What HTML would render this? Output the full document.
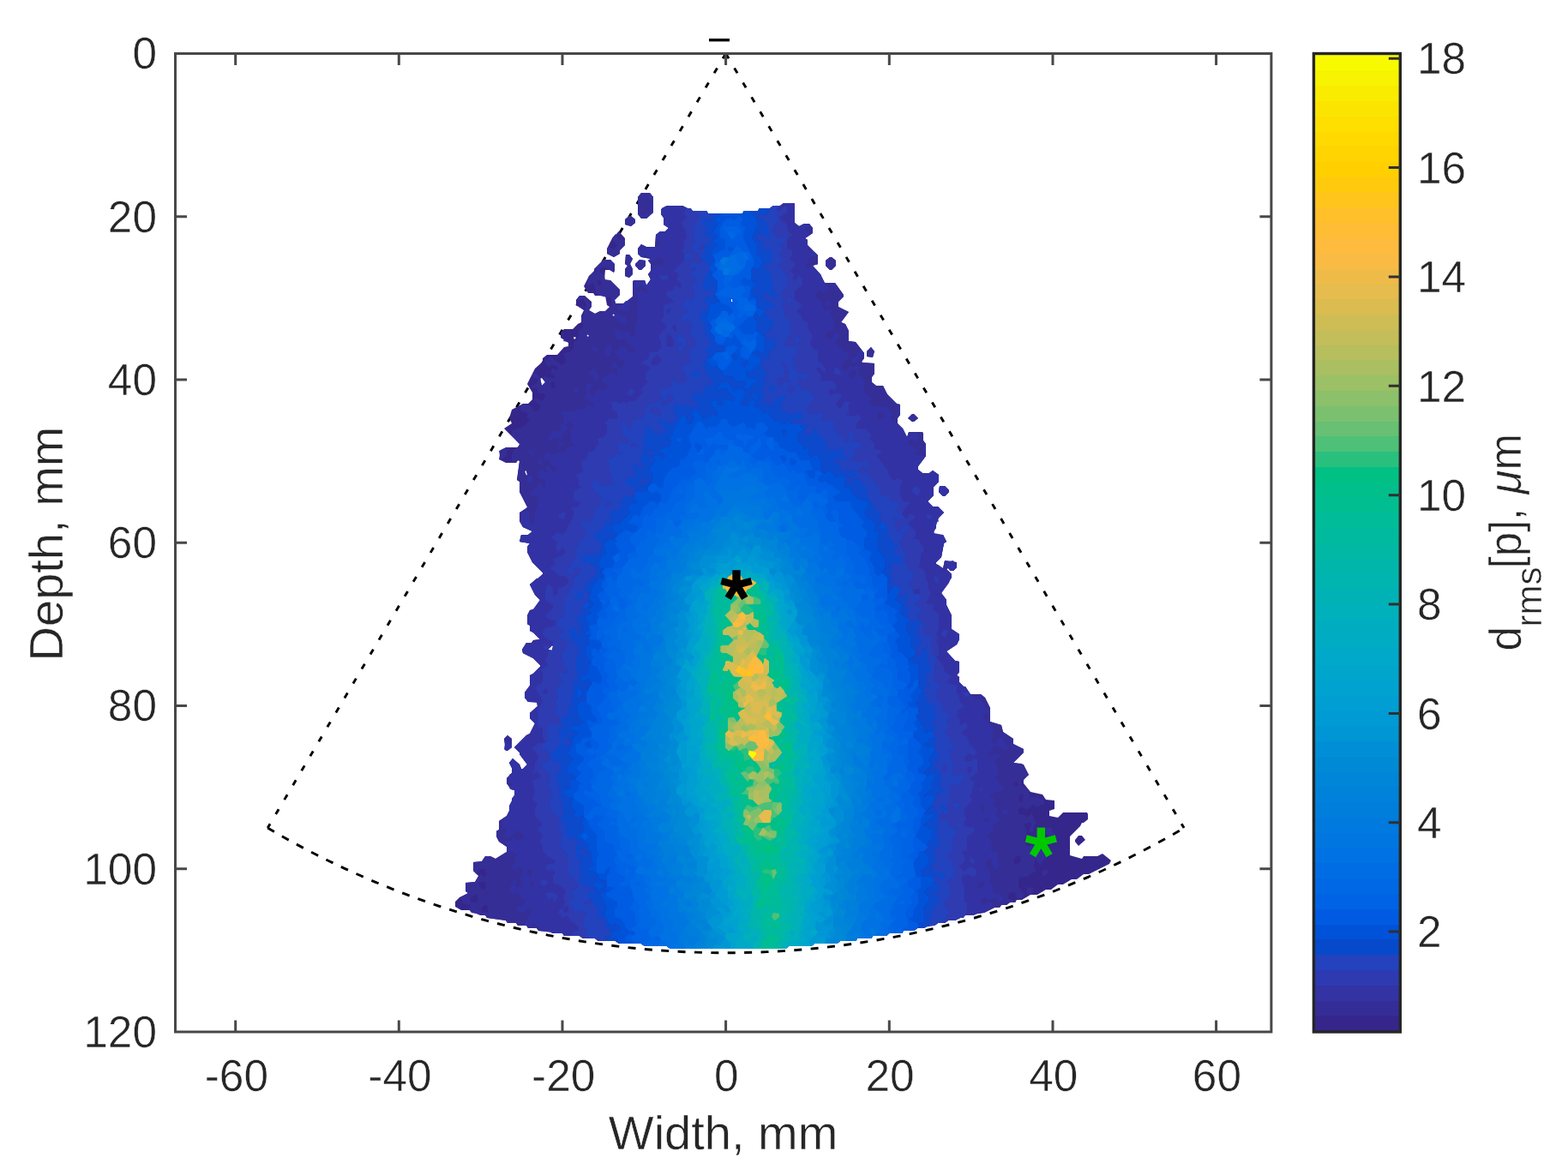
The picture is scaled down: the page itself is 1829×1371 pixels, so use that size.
<!DOCTYPE html>
<html lang="en"><head><meta charset="utf-8"><title>Displacement map</title>
<style>html,body{margin:0;padding:0;background:#fff;}body{width:1829px;height:1371px;overflow:hidden;}svg{display:block;}text{font-family:"Liberation Sans", sans-serif;fill:#262626;stroke:#fff;stroke-width:0.5px;}</style></head><body>
<svg width="1829" height="1371" viewBox="0 0 1829 1371">
<defs><filter id="soft" x="-2%" y="-2%" width="104%" height="104%"><feGaussianBlur stdDeviation="0.55"/></filter></defs>
<rect width="1829" height="1371" fill="#fff"/>
<g fill="none" stroke="#000" stroke-width="2.9">
<path d="M846.6 62.5 L312.2 966.1" stroke-dasharray="6.8 12.9"/>
<path d="M846.6 62.5 L1381.1 966.1" stroke-dasharray="6.8 12.9"/>
<path d="M312.2 966.1 A1051.4 1049.2 0 0 0 1381.1 966.1" stroke-dasharray="9 10.4"/>
</g>
<g id="heat" fill-rule="evenodd" filter="url(#soft)">
<path fill="#36268b" d="M754 255l-6 0 -4-5 0-20 4-5 10 0 4 5 0 18zM1294 1008l-24 12 -6 0 -8 6 -6 0 -10 6 -6 0 -8 6 -6 0 -10 6 -8 0 -10 6 -6 0 -2 3 -6 0 -4 3 -6 0 -2 3 -6 0 -12 6 -22 3 -12 6 -8 0 -4 3 -8 0 -4 3 -8 0 -4 3 -8 0 -4 3 -12 0 -2 3 -16 0 -2 3 -16 0 -2 3 -16 0 -2 3 -18 0 -4 3 -26 0 -4 3 -26 0 -4 3 -134 0 -4-3 -26 0 -4-3 -26 0 -4-3 -20 0 -4-3 -14 0 -4-3 -18 0 -2-3 -28-3 -2-3 -10 0 -2-3 -10 0 -2-3 -10 0 -2-3 -22-3 -2-3 -6 0 -12-6 -10 0 -7-4 0-6 5-5 10-5 -3-2 0-10 11-1 4-7 -6-6 0-10 10-1 4-6 6 0 6 3 13-8 0-6 -9-6 -3-6 0-6 3-2 0-10 9-6 3-6 0-6 3-2 0-6 3-4 0-6 -4-1 -5-7 0-6 6-6 0-6 -3-6 4-5 8 7 2 5 2 0 5-5 -9-12 0-2 -6-6 14-14 4-2 6-12 -6-6 0-6 9-8 -1-5 -10 0 -4-5 0-6 6-8 0-12 4-2 8-8 0-2 -8-8 -12-6 -1-4 5-8 6 0 2-3 8-1 -8-8 -4-2 0-6 -3-2 0-10 3-6 4-1 8-11 -6-6 -6-12 8-7 2 0 5-5 0-2 -12-12 -6-12 0-6 3-4 -12-2 2-8 8 0 5-4 -11-5 -4-7 0-10 9-6 -9-18 0-12 -3-2 3-22 -2-1 -2 3 -12 0 -8-4 2-11 6-3 14 0 2-4 -18-18 9-6 -3-6 3-10 13-7 6 0 5-5 0-8 -6-10 9-18 9-8 0-4 5-4 12 0 8-9 5-1 0-4 -9-6 0-6 4-4 10 0 6-6 4-2 0-8 3-6 -9-6 0-6 4-5 6 0 8 7 0 6 -3 4 7 4 6-3 6 0 5-5 -3-2 -2-11 -12 0 -2-3 -6 0 -5-8 6-12 6-6 0-2 11-11 8 0 5 5 0 8 -1 2 -4-3 -6 0 -1 11 7 1 11 11 0 6 -6 6 1 4 10 0 10-8 0-18 2-1 12 0 2 6 5-7 -3-6 3-4 0-8 -3-4 3-2 -11-2 -4-4 0-6 4-5 6 3 10 0 1-14 5-4 6 0 4-4 -6-4 0-8 -3-4 1-7 6-3 18 0 12 6 16 0 2 3 40 0 2-3 16 0 2-3 12 0 4-3 8 0 4-3 12 0 1 1 0 22 5 4 6-3 6 0 4 5 0 6 -9 6 3 2 0 6 12 12 0 10 -6 2 9 10 5 10 12 0 10 14 0 2 -6 6 0 6 12 6 -9 12 5 2 4 8 0 12 8 1 10 13 0 6 -3 4 1 1 14 1 0 12 -3 4 0 6 5 4 8 0 5 10 11 11 4 1 0 12 -3 4 0 6 6 6 5 10 2-6 16 0 1 2 0 8 3 4 0 14 -9 12 0 4 5 4 8 0 4-3 7 5 0 8 -6 6 0 10 -6 6 0 2 5 5 6 0 7 7 -6 6 -3 6 0 6 -3 4 1 4 10 0 4 8 -3 2 -3 16 -6 6 0 2 8 5 2-9 14 2 0 6 -4 4 -6-3 -2 1 6 6 0 4 -12 18 6 8 0 6 6 12 0 16 9 6 0 6 -3 6 -12 8 10 11 5 1 0 12 -3 4 3 2 0 6 5 5 2 0 6 9 12 0 5 4 6 12 0 16 13 4 2 8 12 8 0 6 12 6 0 4 -12 12 12 2 6 12 -6 6 0 4 8 10 14 3 4 6 10 1 0 10 -6 2 0 6 10 2 6-6 28 0 1 2 0 6 -5 4 -2 0 -2 4 -12 12 0 22 14 4 2-3 16 0 6-3 10 8zM736 264l-7-2 0-6 5-4 2 0 5 4 0 4zM716 300l-8-4 0-6 6-12 8-8 7 8 0 8 -6 6 0 4zM734 324l-5-2 0-8 3-4 -3-2 1-11 4 0 4 5 -3 6 3 6 0 6zM970 315l-2 0 -5-5 0-6 5-4 2 0 5 4 0 6zM748 315l-2 0 -5-5 0-2 5-5 7 1 0 6zM854 354l1-2 -1-4 -2 2zM717 368l-1-2 -2 2 2 1zM687 392l-1-2 -2 2 2 1zM672 394l-2-1 -1 1 1 2zM1018 417l-7-1 0-6 5-5 4 5zM632 450l4-4 -4-5 -2 1zM1066 492l-2 0 -5-4 5-5 2 0 5 5zM614 555l1-1 -1-5 -2 1zM1102 579l-2 0 -5-5 1-7 6 0 5 5 0 2zM645 754l-1-1 -5 5 5 1zM590 876l-2-14 4-4 5 4 0 10 -5 4zM1258 987l-4-5 0-2 4-5 4 0 4 5z"/>
<path fill="#352d97" d="M754 255l-6 0 -4-5 0-20 4-5 10 0 4 5 0 18zM1190 1050l-5-2 -1-7 -6 0 -2 7 9 4 -1 1 -6 0 -4 3 -6 0 -2 3 -6 0 -12 6 -22 3 -12 6 -8 0 -4 3 -8 0 -4 3 -8 0 -4 3 -8 0 -4 3 -12 0 -2 3 -16 0 -2 3 -16 0 -2 3 -16 0 -2 3 -18 0 -4 3 -26 0 -4 3 -26 0 -4 3 -134 0 -4-3 -26 0 -4-3 -26 0 -4-3 -20 0 -4-3 -14 0 -4-3 -18 0 -2-3 -28-3 -2-3 -10 0 -2-3 -10 0 -2-3 -10 0 -2-3 -22-3 -2-3 -16-3 -4-5 3-2 -1-2 -11-2 3-2 -3-4 9-6 -3-2 0-10 11-1 6-9 6 3 1-1 -1-8 -6 0 -4 6 -4-4 0-10 10-1 4-6 6 0 6 3 13-8 0-6 -9-6 -3-6 0-6 3-2 0-10 9-6 3-6 0-6 3-2 0-6 3-4 0-6 -4-1 -5-7 0-6 6-6 0-6 -3-6 4-5 8 7 2 5 2 0 5-5 -9-12 0-2 -6-6 14-14 4-2 6-12 -6-6 0-6 9-8 -1-5 -10 0 -4-5 0-6 6-8 0-12 4-2 8-8 0-2 -8-8 -12-6 -1-4 5-8 6 0 2-3 8-1 -8-8 -4-2 0-6 -3-2 0-10 3-6 4-1 8-11 -6-6 -6-12 8-7 2 0 5-5 0-2 -12-12 -6-12 0-6 3-4 -12-2 2-8 8 0 5-4 -11-5 -4-7 0-10 4-1 5-5 0-2 -9-16 0-12 -3-2 3-22 -2-1 -2 3 -5-2 0-8 3-6 6-4 0-2 -9-10 0-6 13-4 8-8 -3-2 0-6 -7-2 -2-4 4-5 10 3 2 6 4 0 4-4 0-4 -9-6 7-1 4 3 4-4 -2-5 -6 0 -2-6 -8-1 9-6 0-4 -5-1 -1-5 5-1 4 5 2 10 4-4 -3-4 1-4 6 3 6 0 2-1 -6-6 2-5 6 3 1-4 -7-2 -4 3 -4-5 0-2 4-5 4 0 12 9 4-4 -3-10 7-1 5-5 0-6 6-6 0-8 6-6 -3-4 0-6 3-2 0-6 3-6 -4-8 -4 3 -4-1 4-5 6 0 8 11 -3 6 7 4 6-3 6 0 8-7 -2-8 -16-4 -4-14 -6 3 -2-1 3-10 9-6 -3-2 11-11 8 0 5 5 -1 10 -10-6 -2 0 -5 4 6 6 1 5 6 0 11 11 0 6 -6 6 1 4 10 0 10-8 0-18 2-1 12 0 2 6 5-7 -3-6 3-4 0-8 -3-4 3-2 -11-2 -4-4 0-6 4-5 6 3 10 0 1-14 5-4 6 0 4-4 -6-4 0-8 -3-4 1-7 6-3 18 0 12 6 16 0 2 3 40 0 2-3 16 0 2-3 12 0 4-3 8 0 4-3 12 0 1 1 0 22 5 4 6-3 6 0 4 5 0 6 -9 6 3 2 0 6 12 12 0 10 -6 2 9 10 5 10 12 0 10 14 0 2 -6 6 0 6 12 6 -9 12 5 2 4 8 0 12 8 1 10 13 0 6 -3 4 1 1 14 1 0 12 -3 4 0 6 5 4 8 0 5 10 11 11 4 1 0 12 -3 4 0 6 6 6 5 10 2-6 16 0 1 2 0 8 3 4 0 14 -9 12 0 4 5 4 8 0 4-3 7 5 0 8 -6 6 0 10 -6 6 0 2 5 5 6 0 7 7 -6 6 -3 6 0 6 -3 4 1 4 10 0 4 8 -3 2 -3 16 -6 6 0 2 8 5 2-9 14 2 0 6 -4 4 -6-3 -2 1 6 6 0 4 -12 18 6 8 0 6 6 12 0 16 9 6 0 6 -3 6 -12 8 10 11 5 1 0 12 -3 4 3 2 0 6 5 5 2 0 6 9 12 0 5 4 6 12 0 16 13 4 2 8 12 8 0 6 12 6 0 4 -12 12 10 1 8 13 -9 6 0 6 9 6 2 8 8 0 8 4 0 4 -8 4 -6-3 -6 6 -6-3 -4 2 0 6 8 1 2 3 6-6 2 8 3 2 -5 14 -4-2 3-8 -1-2 -8 2 3 6 0 8 -3 4 4 7 8-1 -3-6 6-4 0-6 5-4 12 0 4 8 -4 4 -6-6 -8 10 6 6 0 6 6 4 -9 8 -1 5 -6-9 -2 8 3 6 -11 7 -10 1 0 10 6 8 0 4zM736 264l-7-2 0-6 5-4 2 0 5 4 0 4zM722 273l-2-1 2-2 1 2zM716 300l-8-4 0-6 2-2 6 3 4-5 -6-6 0-2 4-5 4 6 7 1 0 6 -6 6 0 4zM734 324l-5-2 0-8 3-4 -3-2 1-11 4 0 4 5 -3 6 3 6 0 6zM970 315l-2 0 -5-5 0-6 5-4 2 0 5 4 0 6zM748 315l-2 0 -5-5 0-2 5-5 7 1 0 6zM702 332l-2-5 -4 1 2 5zM854 354l1-2 -1-4 -2 2zM681 358l-1 2 -5-2 1-1zM717 368l-1-2 -2 2 2 1zM666 386l-2 1 -4-1 2-2zM656 390l-2-2 2-1 1 1zM687 392l-1-2 -2 2 2 1zM663 398l-1 1 -5-1 1-2zM1018 417l-7-1 0-6 5-5 4 5zM644 453l4-1 -2-8 -4 4zM1066 492l-2 0 -5-4 5-5 2 0 5 5zM584 537l-2-11 10-4 2 2 -3 2 0 6zM614 555l1-1 -1-5 -2 1zM1102 579l-2 0 -5-5 1-7 6 0 5 5 0 2zM645 754l-1-1 -5 5 5 1zM590 876l-2-14 4-4 5 4 0 10 -5 4zM1188 916l-2-4 -4 2 2 4zM1192 936l2-8 -4-1 -2 7zM1191 1006l-1-7 -4 0 -4 5 2 4zM1216 1023l-1-7 5-2 4 4zM567 1036l-1-7 -8 1 4 8zM1204 1044l-7-2 1-7 8 1zM558 1052l-2-8 -2 0 -5 4 1 5zM570 1064l-2-8 -2 0 -5 4 1 5z"/>
<path fill="#3333a4" d="M760 234l-4-4 2-2 4 2zM1154 1062l-6 0 -12 6 -10 0 -12 6 -8 0 -4 3 -8 0 -4 3 -20 3 -4 3 -12 0 -2 3 -16 0 -2 3 -16 0 -2 3 -16 0 -2 3 -18 0 -4 3 -26 0 -4 3 -26 0 -4 3 -134 0 -4-3 -26 0 -4-3 -26 0 -4-3 -20 0 -4-3 -14 0 -4-3 -18 0 -2-3 -12 0 -4-3 -6 0 -12-9 -2 3 -6 0 -2-2 9-18 -1-1 -12 6 -5-1 0-6 7-2 2-4 -8-11 -6 3 -4-8 3-2 1-8 5 2 -3 6 2 1 7-1 0-6 -3-4 3-6 0-6 -5-1 -2 6 -5-5 0-2 6-4 -3-2 3-6 -5-5 -6 0 -1-1 3-4 -6-6 8-1 2-3 10 3 4-5 -8-7 -6 6 -8 3 -2-4 3-6 -6-4 3-2 -3-4 9-8 0-10 6-12 0-6 -6-2 3-4 -3-6 0-6 3-2 0-6 -3-6 4-5 8 7 2 5 2 0 5-5 -9-12 0-2 -6-6 14-14 4-2 6-12 -6-6 0-6 9-8 0-4 -11-1 -4-5 0-6 6-8 0-12 4-2 8-8 0-2 -8-8 -12-6 -1-4 5-8 8 0 8-4 -8-8 -4-2 0-6 -3-2 0-10 12-12 3-6 -6-6 -6-12 15-12 0-2 -12-12 -6-12 0-6 3-4 -12-2 2-8 8 0 5-4 -11-5 -4-7 3-4 0-6 5-4 4 8 0 8 2 2 4-2 0-14 3-4 0-6 3-6 -12-2 3-6 6-4 1-4 4 0 2 6 2-2 0-8 -8-2 -1-8 7-1 4 3 1-2 -3-2 2-5 2 0 6 9 5-4 -5-5 -2 0 -4-6 -7-1 3-6 4-2 6 3 4-3 6 0 6-6 7-2 -3-6 0-12 3-6 -5-4 -4 4 3 4 -6 6 -1 7 -10-3 -2 6 -5-4 5-8 10-2 0-6 3-2 0-10 -3-2 2-2 14 0 4-3 8 0 4-6 6 6 1-7 -7-2 -5-4 3-4 0-12 2-1 7 1 -6 6 0 4 5 4 6-9 6 3 4-4 0-4 -4-1 -2-5 8-7 6 0 2 3 2-2 0-6 -9-2 5-5 2 0 6 6 5-5 0-2 -5-2 -7-8 0-2 7-5 6 0 4 6 7-1 -3-6 -6-4 -2-4 -6 0 -2 3 -5-7 0-6 5-2 2 3 10 0 2 6 5-1 0-16 3-2 0-28 -3-6 7-1 4 3 4-4 -8-5 -6 3 -1-8 11-1 2 6 5-7 -3-6 6-6 0-4 12-2 0-4 -4-4 -12 6 -2-2 3-2 -7-5 -4 3 -4-4 0-4 10-1 4-3 6 0 7-4 -6-6 0-4 5-4 6 0 4-4 -6-4 0-8 -3-4 0-6 7-4 18 0 12 6 16 0 2 3 40 0 2-3 16 0 2-3 12 0 4-3 8 0 4-3 12 0 1 1 0 22 5 4 6-3 7 1 -6 6 6 6 -6 4 3 2 0 12 8 2 4 4 -10 2 -2 8 -3 2 5 2 2-3 5 5 0 2 6 4 3 8 6 6 0 4 -4 4 -6-3 -5 5 0 2 6 4 5 13 2-3 8 2 -3 2 0 4 6 6 -3 2 0 10 -8 1 -1 5 5 4 2 0 4-9 7 5 -6 6 0 2 11 11 4 1 0 6 -6 4 -3 8 7 2 4-6 2 3 6-3 5 2 -3 2 0 6 6 6 0 16 9 6 -3 6 4 4 16 0 7 8 -3 6 15 12 5 10 2 0 6-6 5 2 -1 10 -6-3 -5 1 0 4 5 4 7 2 -3 6 2 1 10 1 -9 12 0 4 5 4 8 0 4-3 7 5 0 8 -6 6 0 10 -6 6 0 2 5 5 6 0 7 7 -6 6 -6 18 11 2 4 8 -3 2 -3 16 -6 6 0 2 4 2 4 6 6 0 4 4 -3 10 -9 12 6 8 0 6 6 12 0 16 9 6 0 6 -3 6 -12 8 10 11 5 1 0 12 -3 4 3 2 0 6 5 5 2 0 2 5 10 10 6 0 5 10 6 4 -1 4 -4-3 -4 7 4 2 8 8 0 12 -3 6 7 1 2-5 4-1 8 11 -2 4 -12-6 -6 6 -4 2 4 4 4-3 7 1 0 4 -6 2 0 6 3 4 0 6 -3 6 9 12 -2 4 -8 0 -5 4 6 6 -3 6 6 4 -3 6 6 6 -9 8 0 6 -6 4 0 2 6 6 -3 10 9 2 0 12 3 4 -5 4 -2 0 -4-12 -7 4 0 4 6 6 0 14 3 4 0 6 4 4 6 0 2 4 -4 5 -6-6 -4 3 -8-3 -5 5 5 4 2-3 8 1zM754 255l-1-5 5-1 1 1zM946 267l-1-1 1-2 2 2zM952 309l-1-1 1-2 2 2zM746 315l-2-1 2-2 1 2zM735 322l-1 2 -5-2 1-1zM974 336l-5-4 1-2 5 2zM736 351l-1-1 1-2 2 2zM854 354l1-2 -1-4 -2 2zM735 352l-1 11 -14-1 0-4 4-1 6-6zM968 357l-5-1 1-5 5 1zM732 376l-4 2 -6-3 -5-5 0-2 5-2 2 3 6 0zM988 399l-1-1 1-8 2 2zM706 417l-1-7 3-6 4-2 2 8 -3 6zM699 406l-5 5 -4-5 2-1zM994 423l-1-5 5-1 6-9 4 4 -6 6 -2 5zM694 447l-1-7 -6-4 0-2 7-5 2 7 3 4 0 2zM992 441l2 0 5-5 -1-4 -4 0 -4 4zM674 459l-5-1 1-5 5 1zM1032 488l0-4 -4-4 -5 2 1 7zM1064 492l-2-2 2-1 1 1zM652 522l-1-4 5-2 1 2zM1078 528l-1-2 1-7 2 1zM650 525l-2-1 2-2 1 2zM624 530l-4 1 -5-5 5-1zM632 543l-5-1 1-8 5 4zM620 564l-5-2 1-7 5 1zM1102 579l-2 0 -5-5 1-7 6 0 5 5 0 2zM1116 662l-4 4 -4 0 -7-10 11-2 1 2 -3 2zM645 754l-1-1 -5 5 5 1zM1146 812l-2 1 -4-1 2-2zM592 861l-1-1 1-2 2 2zM590 876l-2-2 2-13 1 5 6 2 0 4zM1148 948l1-8 -5-1 -1 5zM1176 950l-4 1 -5-5 7-1zM1155 956l-1-2 -8 2 4 4zM580 972l-1-2 1-1 2 1zM620 1023l1-7 -5-2 -1 4zM624 1034l-2-5 -4 1 2 5zM1144 1038l5-8 -1-1 -8 1 0 4z"/>
<path fill="#2e3ab1" d="M1124 1071l-6 0 -4 3 -8 0 -4 3 -8 0 -4 3 -8 0 -4 3 -8 0 -4 3 -12 0 -2 3 -16 0 -2 3 -16 0 -2 3 -16 0 -2 3 -18 0 -4 3 -26 0 -4 3 -26 0 -4 3 -134 0 -4-3 -26 0 -4-3 -26 0 -4-3 -20 0 -4-3 -14 0 -4-3 -8 0 -2-2 4-4 4 0 1-4 -5-5 -2 0 -6-9 -6 3 -5-7 5-5 2 6 5-1 0-6 -1-2 -4 3 -1-1 3-6 -3-4 3-8 -4-5 -11-5 0-8 3-4 -4-4 -4 3 -4-5 4-4 6 0 2-4 -10-5 -5-7 0-6 -3-4 3-8 -6-6 6-6 -9-10 0-8 3-6 -6-6 3-6 -3-16 9-2 0-4 -4-4 -4 3 -1-1 3-6 0-6 3-4 0-6 -6-6 0-2 7-5 8-1 -3-6 0-10 -6-2 0-18 6-12 -9-16 9-6 0-12 -3-2 9-6 -3-6 3-4 0-6 6-2 0-10 -5-1 -7-7 0-4 5-4 10-2 0-6 -8-1 -4-5 9-8 0-4 -9-6 0-14 4-5 5 5 1 10 5-4 0-6 7-2 5-4 0-4 -5-4 -6 0 -6-6 -4-2 0-2 6-4 -3-6 11-4 4-4 -4-5 -6 6 -2-7 3-6 -9-4 8-7 6 3 4-4 9-18 0-6 -3-4 8-1 4-5 -9-2 0-10 9-6 -3-2 0-6 -3-6 9-4 -3-6 0-6 6-2 2-8 7-2 0-2 6-6 -3-6 8-2 4-4 0-10 -3-2 5-5 10-1 0-6 -6-4 0-6 -3-2 7-2 6 3 4-3 2 3 4-3 8 0 2-4 6-6 -3-4 9-8 -3-4 0-6 6-6 -5-4 -7-2 9-6 2-7 8 0 5-5 0-8 -3-6 9-10 0-2 -6-6 3-4 0-14 12-4 -9-8 0-4 7-1 4-6 6 3 1-4 -6-6 3-6 -6-4 12-12 0-8 -3-4 3-2 0-10 3-2 0-6 -6-12 6-6 -3-6 2-5 6 0 2 3 16 0 2 3 40 0 2-3 16 0 2-3 12 0 4-3 6 0 1 2 -3 2 2 2 8-6 2 2 0 6 -9 6 9 8 0 6 6 6 -6 6 0 10 6 2 0 6 -3 4 6 6 0 2 -6 6 6 4 -3 6 4 1 4-6 4 5 0 6 -9 8 0 10 9 6 -6 6 0 2 6 6 0 4 6 2 0 6 6 10 -3 8 3 6 6 4 0 12 4 1 5 7 -1 5 -6-6 -5 1 6 6 1 8 12 0 5 4 0 6 -1 2 -4-3 -4 5 2 4 6-3 7 1 0 4 -6 6 0 2 5 5 6-9 7 2 -3 2 0 10 -3 2 11 2 2-3 5 5 -6 6 0 6 11 1 7 7 -3 4 6 6 0 6 9 2 -6 6 12 16 3 8 4 5 6-3 5 4 -3 6 0 10 4 7 8 1 -9 12 0 4 5 4 2-6 4 0 4 4 -9 6 9 10 0 6 -3 2 7 2 5 8 0 6 -3 2 0 10 -3 6 6 2 3 6 0 6 3 4 0 8 3 4 -6 12 8 1 1 7 6 4 0 20 -3 4 3 6 -3 2 3 4 0 12 -3 2 9 12 0 4 9 8 -6 6 12 4 0 8 3 4 0 6 6 6 -9 6 3 2 -3 4 3 2 1 8 6-3 2 1 0 6 -4 2 -2 4 6 4 3 8 9 10 -4 4 -6-3 -5 5 1 4 6 0 4-3 4 1 0 16 -9 6 6 6 -3 6 0 6 -3 2 3 6 -9 10 0 8 3 4 -3 2 0 6 11 2 1 4 -9 6 0 16 -6 2 3 6 0 6 -6 4 5 7 8-6 6 3 2 4 -4 5 -6-3 -8 2 0 8 3 4 0 18 3 2 0 10zM780 326l-8 1 -4-5 10-1zM854 354l1-2 -1-4 -2 2zM778 366l5-4 -1-2 -5 2zM788 387l1-1 -1-8 -5 4zM784 405l2-7 -3-6 -5-2 -1 14zM760 426l6 0 5-4 0-4 -5-4 -7 8zM980 438l-8-2 2-7 2 0 5 5zM736 462l-4-2 2-7 2 0 5 5zM1070 579l-8-7 8-5 4 5 0 2zM658 606l-7-2 0-2 5-5 4 1zM1089 602l-5 4 -4-2 2-4zM1094 609l-2-1 2-2 1 2zM1090 612l-1-2 1-1 2 1zM1094 681l-5-5 1-4 5 2zM1074 692l-2-5 -7 1 1 5zM1102 744l-4-4 2-5 7 1zM642 754l-4 5 -5-5 1-1zM639 808l-1-4 -5 2 1 4zM1131 812l-5 1 -4-5 8-1zM1130 903l4-5 -2-4 -4 2zM1144 924l-1-2 1-4 2 2zM1136 1008l-5-2 1-7 5 5zM634 1035l-4-5 2-4 7 2 0 2zM651 1048l-5 5 -2-6 -4 3 -4-8 8-1 6 3z"/>
<path fill="#2442be" d="M1100 1077l-6 0 -4 3 -8 0 -4 3 -8 0 -4 3 -12 0 -2 3 -16 0 -2 3 -16 0 -2 3 -16 0 -2 3 -18 0 -4 3 -26 0 -4 3 -26 0 -4 3 -134 0 -4-3 -26 0 -4-3 -26 0 -4-3 -18 0 -2-3 -10 0 -4-5 0-6 -3-2 0-12 3-4 -4-4 -4 3 -6 0 -1-5 -6-6 6-6 -3-8 4-2 5-4 0-4 -5-1 -1-5 -6-2 0-22 -9-12 0-12 3-2 -6-4 3-2 -3-4 3-8 -8-8 -4-2 0-14 3-4 -6-12 3-14 -9-6 0-6 9-4 0-6 -9-6 0-6 6-2 0-18 5-5 6 3 4-4 0-4 -9-6 6-6 -3-2 0-6 3-4 -3-8 3-6 6-4 -6-12 1-1 6 3 5-2 -6-6 0-8 -3-4 9-18 -7-1 -5-5 6-6 0-2 -9-4 3-2 0-6 9-4 -3-6 0-6 3-2 -3-6 6-4 6-12 0-8 5-2 4-8 -8-1 -2 6 -6 0 -2-5 6-2 0-6 6-6 0-10 3-2 0-6 5-2 4-8 -6-12 4-4 4 3 4-1 3-6 0-6 6-4 0-6 3-2 0-4 -9-8 -3-6 4-5 4 0 2 6 6 0 4-3 2 3 2-1 0-10 -3-2 0-12 -3-4 14-10 2 3 2-1 -6-6 0-6 8-2 2 3 5-7 -9-4 0-6 -3-6 5-4 6 9 4-5 0-6 8-1 7-7 0-6 5-5 6 0 6-6 2 9 12-6 2-4 -4-5 -5 5 3 2 -4 2 -5-4 0-10 11-1 2-9 6 3 11-1 0-6 -6-12 12-6 -3-6 0-6 4-5 4 0 1-5 -9-12 3-6 0-6 -12-2 0-6 9-4 -9-6 3-2 2-8 6 3 4-5 0-6 -3-6 6-6 0-2 -9-6 9-6 -5-2 -2 3 -2-5 4-4 6 3 5-5 0-2 -7-8 -5-2 0-6 6-6 -3-2 0-6 -3-6 6-4 0-6 3-2 0-4 -6-2 2-2 12 0 2 3 40 0 2-3 16 0 2-3 12 0 4-3 4 2 0 8 3 6 -9 12 8 11 6-3 4 4 -9 6 3 4 -3 8 6 6 -9 6 4 2 8 10 0 12 -6 6 0 10 3 2 -3 6 3 4 0 6 9 12 -3 2 3 6 -6 6 -3 10 7 1 4-3 4 4 0 6 -6 6 3 6 0 6 7 8 4-3 4 1 0 4 -4 4 -6-3 -2 1 0 6 8 8 6 0 7 8 -6 6 -3 6 0 6 10 1 6-3 2 4 -3 6 7 2 6-3 5 5 -3 6 12 12 2 4 4-2 0-6 -3-2 5-2 4 4 -3 6 12 4 0 2 -9 6 3 4 -6 6 0 2 11 2 6-3 4 5 -4 4 -4-3 -4 5 0 2 4 2 6-3 2 7 6 6 0 4 6 2 0 10 8 1 2-6 2 11 8 1 4 5 -6 6 12 8 -8 2 -6-3 -1 1 3 4 0 8 4 5 6-9 8 2 -9 8 0 6 -3 4 0 6 6 6 0 6 -3 6 5 1 1 7 6 4 0 8 -6 6 6 6 1 5 8 1 0 4 -6 6 0 2 9 6 -6 6 0 4 9 8 -3 4 0 6 9 2 0 22 6 2 0 6 -3 4 3 2 -3 4 0 12 9 6 -6 6 0 8 9 10 -3 6 9 2 0 6 -3 4 3 6 -6 6 6 6 0 6 6 2 0 4 -6 6 3 2 -3 6 6 6 -3 10 4 4 6-3 5 5 -6 6 -1 4 -6-3 -5 1 3 6 -3 6 0 10 -3 2 3 10 -5 1 -2-3 -5 4 1 5 10 0 1 5 9 8 -6 12 3 10 -9 6 6 6 0 6 3 2 0 12 -9 4 6 12 -3 2 0 6 -6 6 6 12 -6 6zM822 286l-4-1 -5 5 7 1zM800 303l-2-5 8-4 1 8zM922 354l-4-2 2-7 4 5zM854 354l1-2 -1-4 -2 2zM794 411l-5-5 6-2 0-4 -6-2 1-8 4 0 7 8 -3 8zM932 402l-5-4 1-5 5 1zM908 450l2 0 6-6 4 3 4-1 -6-6 3-6 -3-4 -2-7 -4 1 3 6 0 10 -9 2zM927 458l-1-8 -4 0 -4 4 4 5zM771 484l-1-7 -6-3 -5 4 1 5 6 0 4 3zM744 520l-4-4 -5 4 1 2zM714 590l-4-5 -5 1 1 5zM654 752l-2 1 -7-1 1-2zM1100 903l7-7 -5-5 -4 5zM1118 945l-8-5 4-4 5 2zM1118 966l-2-2 4-4 2 4zM690 1052l-4-2 -5 4 7 2z"/>
<path fill="#0749cb" d="M722 1101l-4-3 -8 0 -5-4 9-4 -9-12 3-8 -2-2 -2 3 -6 0 -2-1 3-6 -3-6 -9-10 0-8 5-2 1-4 -1-2 -4 3 -13-7 3-6 0-6 -3-4 3-6 -6-8 0-10 3-6 -5-4 -6 0 -4-4 0-12 -6-6 3-6 0-10 -3-2 3-4 -6-6 3-2 0-6 -3-4 0-8 -6-4 9-2 0-12 -12-4 0-6 12-12 0-6 -3-2 3-6 -3-4 9-2 -6-6 0-4 9-2 0-10 3-2 0-12 3-4 0-12 6-6 -3-6 0-18 3-2 0-10 -9-8 0-6 -3-4 5-4 4 2 2 7 4-5 -3-6 0-6 -3-2 6-6 9-18 0-6 -5-2 -1-4 15-18 0-4 -8-7 -6 0 -4-5 4-4 12 0 5-4 0-4 6-6 -5-1 -7-7 0-4 5-1 7-7 1-5 8-1 -3-6 3-6 8-2 4-4 -3-4 7-7 11-1 0-10 -7-1 -5-5 0-2 12-4 0-6 -3-6 4-4 4 9 4-1 -3-16 3-2 0-10 3-2 -3-4 3-6 0-6 5-4 6 9 6 0 7-7 -9-6 2-5 12 6 6-6 4-1 -6-6 2-11 6 3 12 0 2 3 5-5 0-2 -6-4 0-6 13-1 2-7 9-4 0-6 -6-2 0-6 -6-6 6-10 0-6 -3-2 6-6 0-6 -6-10 0-8 -6-10 3-6 9-6 -6-6 0-2 4-5 8-1 -2-5 -8 0 -5-5 3-6 0-6 6-6 0-8 -4-2 -5-4 0-4 3-2 0-10 9-6 -9-6 3-8 -6-4 0-6 1-1 6 3 5-4 -3-4 2-1 36 0 2-3 16 0 2-3 10 0 1 5 -5 4 -6-3 -1 5 5 4 7 2 -3 6 3 2 0 10 -1 1 -6-6 -8 1 3 6 6 4 0 8 1 2 4-3 4 1 0 12 -4 5 -4 0 -1 5 5 1 4 7 0 10 3 2 -3 4 6 6 -2 4 -8-6 -8 2 3 6 7 1 5 7 -12 4 0 2 12 12 -3 6 -9 10 7 4 6 0 2 4 -9 12 0 6 -1 2 -6-3 -2 1 0 10 6 8 -3 6 3 6 -6 6 3 4 0 6 -3 6 10 1 4 3 1-8 11-4 1 2 -6 12 11 7 6 0 6-3 4 4 0 4 -4 4 -6-3 -2 1 2 5 14 0 2 1 -3 6 1 5 6 0 6-9 2 10 4 2 2 4 6 4 -3 2 1 5 16 0 2-3 2 2 -3 6 6 2 -5 5 -2-3 -8 4 9 6 1 8 6-3 4 3 2-3 5 1 0 4 -5 4 -6-3 -1 5 5 4 6-6 2 0 5 4 0 4 6 2 0 10 3 2 0 6 4 2 2 4 6 6 0 10 9 8 0 6 3 6 9 10 -6 6 12 8 -1 5 -10 0 -4 5 3 2 -3 6 3 6 -3 4 12 8 -3 6 1 2 6 0 4-3 1 5 -6 6 9 6 -3 2 0 10 5 4 6-3 4 1 -3 6 0 6 -3 4 6 6 0 6 -6 6 0 6 4 1 5-5 -3-2 4-2 5 8 -3 6 6 8 0 4 -6 6 0 6 6 6 -8 1 -1 5 3 2 0 6 3 6 9 6 -3 4 3 2 0 6 -6 4 6 6 0 2 -6 4 6 8 0 6 -3 6 6 6 0 6 -6 6 0 4 9 6 0 8 -3 6 6 6 -5 2 -10 14 9 12 0 8 -3 4 3 6 -3 2 3 6 0 10 -6 6 3 14 -4 2 -2 4 4 5 6 0 8 5 -4 4 -4 0 -2-6 -5 2 0 6 6 2 0 10 -6 2 6 6 0 4 -9 12 0 8 -3 4 3 2 -8 5 -8 0 -4 3 -12 0 -2 3 -16 0 -2 3 -16 0 -2 3 -16 0 -2 3 -18 0 -4 3 -26 0 -4 3 -26 0 -4 3 -134 0 -4-3 -26 0 -4-3zM854 354l1-2 -1-4 -2 2zM814 441l-2 0 -5-5 5-4 4 2zM898 459l-1-7 7-2 2 2zM800 486l1-2 -1-4 -2 2zM762 526l-4-1 -5 5 7 1zM756 562l-4-4 -8 2 2 4zM680 699l-8-1 2-8 2 0 5 4zM1082 756l-2-2 2-1 1 1zM666 868l0-2 -4-5 -5 1 0 4 5 4zM1100 948l-2-8 4-1 2 5zM684 998l-2-8 -2 0 -5 4 5 5z"/>
<path fill="#0052d8" d="M874 453l-7-1 3-4 -2-4 -6 0 -2 3 -6-9 -10 0 -1-4 -7-8 -4 3 -7-7 0-4 5-1 6-6 10-1 0-6 -8-2 -4-4 0-6 -6-6 3-6 -6-6 0-6 3-4 0-6 -3-2 15-4 -6-8 3-6 0-10 -9-12 0-6 6-6 -3-6 0-6 6-6 -6-6 6-2 0-4 -6-2 6-10 -3-6 8-7 24 0 2-3 6 0 2 4 6 4 0 12 -6 12 6 6 0 12 6 6 0 6 -4 7 -4-3 -4 2 0 12 6 6 -6 6 0 2 6 10 0 8 9 4 0 2 -5 5 -6-6 -1 1 0 6 3 4 0 12 9 6 0 18 -5 1 -2-3 -8 4 10 5 2 7 -4 2 -6 6 -8 2 2 7 10 1 0 4 -4 1zM854 354l1-2 -1-4 -2 2zM861 418l0-2 -5-5 -4 5 4 4zM868 429l5-5 -1-4 -4 0 -4 4zM1066 1086l-12 0 -2 3 -16 0 -2 3 -16 0 -2 3 -16 0 -2 3 -18 0 -4 3 -26 0 -4 3 -26 0 -4 3 -134 0 -4-3 -26 0 -4-3 -24 0 -6-9 -2 3 -2-1 0-6 8-2 1-4 -5-5 -6 3 -7-14 3-8 -6-10 0-6 6-2 -3-4 3-2 0-6 -8-2 -6-9 -7-1 0-4 6-2 -3-6 0-10 -3-2 0-6 -5-5 -10-5 9-6 0-6 -3-2 3-10 -1-1 -6 3 -5-2 3-6 -6-6 3-8 -5-2 -4-4 0-4 6-2 0-10 6-2 -4-5 -8-1 3-4 0-6 6-6 0-2 -5-2 -1-4 3-4 3-14 6-4 0-2 -7-2 -2-4 10-2 5-4 -6-6 0-6 -3-6 4-5 8-1 0-10 6-8 0-4 -4-4 -6 3 -5-5 7-1 5-5 0-8 3-4 -6-6 0-12 3-2 0-10 -6-2 6-6 0-6 -3-4 0-6 6-2 -3-6 6-4 0-2 -6-6 3-6 0-6 8-11 7-1 -3-6 3-4 -6-2 0-6 3-6 6-4 -3-6 0-6 5-4 6 0 4-4 0-4 -4-1 -2-5 4-4 4 0 13-14 -3-6 4-4 8-2 -3-2 0-10 13-1 2-5 6-6 0-8 -3-4 0-6 6-6 -3-6 8-1 2 6 5-5 -6-6 0-2 12-4 0-6 -3-2 6-6 0-6 6-6 0-4 4-4 4 0 1 8 5 1 4-7 -3-4 1-4 6 0 6 9 4 0 6-6 6 3 1-4 -9-12 8-5 1 7 5 2 2-9 10 3 4-4 -4-2 -6-9 -6 0 -4 3 -1-4 5-5 8 0 6 9 6-3 5 1 3 6 -6 10 2 4 6 0 2-6 6 0 2 2 -3 2 13 11 4-3 1 4 7 8 6 0 4 3 6-3 2 3 10 0 4 7 -6 4 0 8 6 6 2 5 2-3 5 2 -3 6 4 4 4-3 4 1 3 6 0 12 5 2 6-3 8 9 6-3 5 5 -3 2 0 6 8 2 1 4 7 8 14 4 -6 12 3 6 9 6 0 10 6 2 -3 6 0 12 9 12 0 10 -3 6 6 6 0 18 1 1 6-9 4 0 4 4 -6 12 9 6 -3 4 0 6 12 8 -6 4 0 6 6 8 0 12 6 6 0 4 -9 6 12 6 0 24 6 6 -6 6 0 6 -3 2 3 6 0 6 -3 4 9 12 0 6 5 1 2-3 5 4 0 4 -5 1 -1 5 -6 2 5 5 6-3 1 2 0 6 -6 8 3 6 -9 10 5 4 2-3 5 1 0 6 -3 4 0 8 -9 6 1 2 6-3 5 1 0 6 -3 6 -9 10 1 1 6 0 4-3 1 4 -12 10 12 8 -3 4 0 6 -6 6 3 2 -6 6 6 6 0 6 -3 6 -6 4 2 7 12 0 1 5 -3 6 -9 6 6 6 0 6 -6 8 0 16 -5 1zM884 468l-8-8 4-1 5 5zM914 510l4-4 -2-5 -4 1zM1034 618l-8-2 2-7 7 7zM682 711l-1-5 5-4 1 4zM674 816l-2-10 4-2 5 4zM705 1034l-5 4 -2 0 -5-4 0-4 7-1z"/>
<path fill="#005be2" d="M872 420l-8-4 0-10 3-2 -11-14 -2 6 -6-3 -2 5 -4 4 -4 0 -4-4 0-6 -6-6 3-4 -3-6 4-4 4 0 6-9 6 0 2 6 5-5 0-2 -5-5 -8-3 -8-10 3-6 0-10 -6-6 0-2 6-6 -3-4 0-8 -3-4 15-8 0-10 -6-2 0-12 3-6 5-5 6 0 2 3 6-6 5 2 -3 8 6 4 -3 6 0 6 12 24 0 8 -3 4 0 12 -2 1 -6-3 -4 4 0 4 12 2 -3 16 1 1 6-3 2 2 0 12 -3 6 -5 1 -13 13 7 8 10 0 2-3 5 1 -3 6 0 10zM858 290l-8-2 -1 4 5 2zM854 354l1-2 -1-4 -2 2zM842 432l-5-4 0-6 -5-2 -1-4 5-5 8 0 4-6 8-3 5 4 -9 10 3 2 -3 6 -8 8zM1066 1086l-12 0 -2 3 -16 0 -2 3 -16 0 -2 3 -16 0 -2 3 -18 0 -4 3 -26 0 -4 3 -26 0 -4 3 -134 0 -4-3 -26 0 -4-3 -8 0 -4-3 -6 0 -1-4 5-5 6 3 1-4 -7-2 -5-4 0-4 -7-7 -5-1 0-10 3-2 0-6 -12-6 0-4 9-6 -9-2 0-12 3-4 0-6 -1-1 -6 9 -8-2 0-18 3-2 -3-6 0-18 -9-10 0-6 -6-6 0-12 -12-8 0-6 6-4 0-6 3-2 -6-4 0-2 6-6 -6-6 9-10 0-2 -9-6 0-10 4-1 4-6 10-1 0-6 -6-12 2-2 6 3 4-1 0-4 -6-6 0-8 -6-4 0-12 8-13 6 3 4-2 0-6 -6-12 -6-2 0-6 3-4 -3-2 0-6 4-2 4 3 4-5 0-2 -4-5 -11-1 3-6 -3-10 9-2 3-6 -3-6 6-6 0-6 -6-10 9-6 -3-2 0-6 3-4 0-6 -3-2 4-5 8-1 3-6 -3-6 9-6 -6-10 3-2 -3-4 13-10 6 3 6 0 2-7 -12-4 6-6 0-2 4-2 4 3 4-11 8-7 6 0 2 3 5-4 0-6 -5-5 -6 3 -4-4 0-4 4-4 4 0 6 6 4-2 0-8 3-6 7-8 8-2 2-10 2 3 5-5 6-12 -3-6 0-6 10-16 4 0 6 9 2-3 10 0 6-9 6 0 1 5 7 4 12-6 4 9 2-3 6 3 2-7 8-2 7 8 -6 6 5 4 6 0 1 4 5 2 2 6 12 6 6 0 6 9 10 0 4 11 -9 2 7 8 4 0 1-8 5-1 4 5 -4 1 -2 5 4 4 4-3 6 6 2-3 2 4 9 6 -9 6 4 5 16 0 1 7 9 10 0 2 6 4 -3 6 6 6 0 6 -3 2 0 12 9 4 -3 8 6 10 0 6 4 4 6-3 5 5 0 26 -3 4 15 8 -3 6 3 6 -6 6 9 12 -6 6 3 4 0 8 5 2 7 8 0 6 3 2 -3 4 3 2 0 12 -6 6 4 2 5-4 0-4 5-4 1 2 0 6 -9 12 3 6 -6 2 1 5 11 1 0 6 -3 4 3 2 -6 6 6 6 -6 6 0 4 9 8 0 6 -3 4 6 6 0 8 -6 4 0 6 9 2 0 4 -6 6 3 6 -6 6 3 6 0 8 6 6 -6 10 0 8 -6 12 15 12 -5 5 -6 0 -1 7 -6 6 3 16 6 2 0 12 -6 4 3 2 0 12 -6 10 0 6 -6 2 12 6 0 4zM794 516l-5-2 1-4 5 2zM814 528l5-4 0-4 -7-4 -2 4zM914 540l4-4 -2-5 -7 1zM926 543l4-5 -8-4 -1 8zM690 872l-2-8 -7 4 5 5zM682 981l-4-7 4-2 5 4z"/>
<path fill="#0063e5" d="M864 272l-4 1 -4 6 -2 0 -11-13 1-2 16 0 4 4zM862 372l-1-4 3-4 -6-6 3-6 -5-4 -22-4 4-2 8-8 -3-6 3-6 -3-6 -9-6 0-2 4-2 6-6 6 0 10-15 8 9 6 0 2 8 -6 2 0 6 -10 11 -4 0 -1 5 -6 6 7 4 10-3 4 5 0 2 -6 6 8 2 1 4 9 6 -4 11 -6 0 -4-3zM850 393l-6 0 -10-7 3-6 -3-6 6-6 2-5 6 0 2 6 4-3 4 4 -3 6 3 6 -6 6zM874 414l-1-8 -9-6 4-4 6 3 6-3 2 2 0 6zM852 416l-4 4 -8-8 8-1zM1052 1089l-16 0 -2 3 -16 0 -2 3 -16 0 -2 3 -18 0 -4 3 -26 0 -4 3 -26 0 -4 3 -134 0 -4-3 -26 0 -6-6 -6 0 -5-4 6-4 0-2 -6-4 9-6 -3-2 0-10 -6-6 6-12 -3-2 0-6 -4-8 -4 3 -7-1 0-4 5-1 1-5 -12-8 3-4 -3-6 0-6 3-2 -3-6 0-6 -12-4 0-12 -9-8 9-10 -11-1 -6 6 -2 0 -5-5 5-1 6-9 10-2 -14-10 -2 0 -5-4 1-5 6 3 5-2 -6-12 6-2 0-6 -9-12 10-5 2-5 -2-1 -6 3 -4-8 8-1 2 3 5-4 0-4 -9-8 0-6 -3-4 7-4 8-2 0-6 -6-12 12-14 -6-6 4-5 4 3 1-2 -3-6 0-6 3-2 -6-6 0-10 3-2 -6-6 6-4 0-2 -6-4 0-6 3-6 -1-1 -6 6 -2-1 0-10 3-2 -3-10 4-4 6 3 2-1 0-6 -3-4 6-6 0-8 -6-10 6-6 -3-2 0-6 4-2 4 6 4-2 0-6 -6-6 10-1 8-7 0-10 9-2 0-6 -6-6 0-6 15-12 0-10 4-4 4 3 4-5 0-2 6-4 2-7 6 3 4-4 6-16 4-1 4-6 6-3 2 3 11-11 -6-6 3-6 8-1 6 3 14-18 6 3 5-1 -1-5 -12 0 -4-3 -6 6 -4-10 10-2 6-6 4 0 2 6 6 3 6 0 2 7 8 2 2 6 6 0 2-8 4-1 6-9 2 8 -3 6 -9 8 8 5 8 0 6-6 2 7 4 5 6 0 4-3 8 12 4-6 2 6 10 0 4 14 12 2 -3 4 1 4 4 0 6-6 4 4 0 12 -3 4 3 8 -3 6 5 5 6 0 1-1 -6-10 5-4 4 4 0 10 6 6 -6 2 3 10 7 4 6 0 11 10 -3 6 6 6 6 12 0 6 3 4 0 6 3 6 6 2 -6 6 0 4 4 1 4-3 4 4 -2 5 -10 5 4 4 6-3 5 5 0 6 3 6 6 6 0 2 -9 6 0 6 6 12 -3 6 9 6 -3 6 3 4 0 12 7 1 5 5 -5 4 -6 0 -1 8 9 12 0 2 -4 2 -2 4 4 2 4-6 1 2 0 8 -6 12 5 5 2-3 5 2 0 6 -6 2 0 22 3 6 -6 6 4 4 4 0 4 8 0 2 -9 12 9 10 -3 2 0 6 6 4 0 6 -6 6 0 14 3 4 -3 6 0 8 3 4 -9 6 1 4 8 2 -3 2 3 16 -9 6 0 6 9 6 -6 6 3 8 -5 2 -4 8 0 6 3 2 0 10 -5 1zM868 522l-1-8 -9-2 0-4 4-4 4 3 13 1 0 4 -5 1zM902 525l-4 0 -4-7 0-4 4-4 5 2zM814 531l-1-1 7-8 2 8zM718 657l-4-7 8-5 1 7zM708 704l-4 1 -5-5 5-1zM700 762l-1-2 1-1 2 1z"/>
<path fill="#0068e5" d="M856 279l-2 0 -5-5 1-4 4 0 4 4zM873 302l-3 2 0 6 -10 11 -16 0 -1-5 -9-6 0-2 4-2 6-6 6 0 12-6 6 0zM882 362l-14 1 -1-5 5-4 8 3zM850 393l-6 0 -10-7 3-6 -3-6 4-5 4 3 6-3 1 5 9 8 -6 6zM1034 1092l-16 0 -2 3 -16 0 -2 3 -18 0 -4 3 -26 0 -4 3 -26 0 -4 3 -134 0 -4-3 -26 0 -2-2 9-6 0-6 -5-7 -6 3 -4-8 3-2 0-6 -3-4 3-8 -9-12 0-6 -3-4 0-8 6-6 0-10 -18-8 -3-10 6-2 -3-6 0-6 -3-4 0-6 3-6 -12-2 1-5 6 3 2-4 -12-4 0-6 3-2 -9-4 -3-14 -9-6 0-4 6-2 0-6 3-6 9-6 -6-4 0-6 -3-2 15-12 0-4 -6-2 3-6 0-12 12-4 -5-4 -6 0 -4-4 2-5 7-1 -3-4 0-8 -6-6 4-5 6 0 5-5 -6-6 3-6 -3-20 -7-2 -2-4 8-5 6 3 1-4 -7-5 -6 3 -2-8 4-1 2-5 -9-2 0-4 9-6 3-8 6-6 -9-4 0-6 -3-6 5-4 2 0 5 8 -3 2 4 5 4 0 4-5 -3-6 -9-6 6-6 -6-2 0-12 6-6 0-6 10-11 8-1 -3-10 6-6 1-4 4 3 4-7 -3-4 5-4 6 6 1-2 0-18 11-1 1-5 5-1 8-12 8-1 4-20 6 3 4-9 6 0 2 3 5-5 -3-14 2-2 6 6 1-4 -3-6 6-6 0-4 4-1 2 5 4 1 5-5 1-10 10 6 6 0 1 4 9 6 -3 6 5 5 2 0 6-6 4 3 8 0 2 10 8 8 6-3 7 5 0 6 -3 2 2 5 6 0 1-5 5-1 1 1 -3 6 2 11 6 0 6-9 12 0 6 6 4 2 0 2 -8 5 -6-6 -2 0 -2 5 4 4 4-3 4 5 3 8 5 5 6 0 4 5 0 6 3 6 6 2 0 18 9 12 0 10 4 4 6-3 5 5 -1 7 -6 0 -4-3 -4 4 4 5 10 0 2-3 8 8 0 6 -3 2 3 4 0 18 4 1 2 5 6 2 -2 5 -6-3 -4 2 4 7 11 1 0 6 -6 4 3 2 -3 6 9 4 -3 6 0 6 -1 1 -6-3 -2 4 10 2 5 4 0 16 6 6 0 6 -11 1 -1 7 5 5 10 1 0 6 -6 4 0 8 -6 6 9 6 1 11 10-6 1 1 0 6 -11 2 -1 8 9 6 -3 2 6 12 -3 6 0 6 6 6 0 4 -12 8 6 12 -3 6 6 6 0 4 -5 4 -6-3 -4 5 3 2 0 6 -3 6 6 4 0 6 3 2 -3 6 0 6 6 6 -6 4 3 8 -9 6 4 2 6-3 5 5 -9 6 3 8 -12 12 3 6 -6 4 2 4 7 2 0 2 -9 6 6 6zM843 542l-5-5 -4 1 4 5zM798 574l-2 2 -7-2 5-4zM788 615l2 0 5-5 -1-4 -4 0 -4 4zM746 630l-2-2 2-1 1 1zM1014 700l-2-7 -7 1 1 8zM1058 978l-4 0 -4-4 0-4 4-4 5 2zM741 1000l-5-4 -7 2 1 4zM730 1020l-1-2 1-7 5 5zM747 1034l-1-5 -8 1 8 5zM1056 1054l-4 2 -5-4 7-2zM1052 1089l-5-1 1-5 5 1zM771 1096l-1-4 -8 2 4 4z"/>
<path fill="#006de4" d="M872 303l-5-1 1-8 5 8zM867 314l-7 1 -4 6 -12 0 -1-5 -6-2 3-4 0-6 4-4 6 0 4-3 4 1 3 10zM834 386l0-4 8-7 6 3 6 0 4 4 -4 5 -10-3 -2 6 -4 0zM1030 1092l-12 0 -2 3 -16 0 -2 3 -18 0 -4 3 -26 0 -4 3 -26 0 -4 3 -134 0 -4-3 -8 0 -2-2 3-2 0-6 -7-2 -4 3 -4-7 3-6 6-4 0-6 -6-2 0-6 -6-10 0-2 6-4 0-2 -6-4 0-6 3-2 -6-6 3-6 -12-4 3-6 0-6 -9-12 0-12 -15-12 3-2 -3-6 0-10 3-6 -12-2 0-6 6-4 -9-6 6-12 0-6 -3-2 6-6 -5-5 -10-5 0-2 4-5 4 0 6 9 10-2 0-2 -10-11 -4 3 -4-2 0-2 6-6 0-6 6-6 -3-10 6-6 -1-10 -4 0 -1 4 -5 2 -4-4 0-4 10-1 2-5 6-6 -6-6 0-8 2-2 2 3 6 0 4-9 6 3 4-5 -4-4 -6 3 -6 0 -8-7 0-6 4-2 5-8 0-12 -6-2 3-10 -6-2 0-12 3-4 1-7 6 3 2-2 -3-14 9-6 0-4 -4-1 -2-5 6-2 0-6 4-5 4 3 7-2 -7-7 -4 3 -4-4 -3-10 5-1 6 6 10-11 0-8 6-4 0-6 6-8 0-4 -6-2 4-5 4 3 4-2 0-6 3-2 1-8 6 0 4 9 2 0 5-5 -3-8 2-2 2 3 5-1 -3-6 0-6 4-2 8-8 0-20 8-2 8 9 5-5 0-12 5-1 2-6 10 0 2-6 6 0 4 6 2 0 6-6 4 15 6-6 12 0 1 10 -3 6 8 5 2-3 12 0 5 4 3 6 0 6 8 11 8 0 6-9 6 3 2 7 -3 6 9 10 0 8 3 4 0 14 7 2 2-4 4-2 2 4 -3 6 6 4 -6 6 5 4 6-6 7 8 0 6 -3 6 9 2 0 4 -5 4 -6 0 -1 4 5 2 6-6 8 9 6 0 5 5 -6 2 0 6 -9 12 4 2 6 6 8 2 0 6 -4 4 -2-4 -4-2 -2 8 14 13 4-5 -3-2 1-8 8 10 0 6 -12 12 0 4 4 4 10 0 1 4 -9 6 0 6 -3 4 7 7 6 0 2 7 6 6 -3 6 0 6 3 4 -3 2 0 12 -3 4 6 6 -6 6 0 2 8 2 4 4 -8 8 -2-6 -5 2 0 6 5 1 7 7 0 6 -6 6 0 10 -6 6 5 4 6-9 6 0 2-3 8 8 -8 1 -1 7 -9 4 12 8 0 4 -6 6 6 6 0 12 -4 4 -8 2 9 8 -9 6 0 6 3 4 0 14 -3 4 3 2 0 6 -3 6 12 16 -4 4 -6-3 -5 5 1 4 6 0 5 4 -9 12 0 10 3 2 0 4 -6 6 3 6zM722 714l-8-2 0-2 4-5 5 5zM732 736l-2-4 -4 2 2 4zM1028 825l1-1 -3-4 6-6 -8-4 -1 14zM729 872l-5-5 -7 7 7 2z"/>
<path fill="#0072e3" d="M842 309l-2-5 4-4 4 0 1 4 -5 5zM848 321l-5-1 1-8 8 2 0 2zM1016 1095l-16 0 -2 3 -18 0 -4 3 -26 0 -4 3 -26 0 -4 3 -134 0 -5-5 0-2 -6-4 -3-6 6-2 0-10 -6-8 3-6 -9-4 0-8 -3-4 0-8 3-4 -6-2 3-6 0-6 -18-4 0-2 5-5 6 0 2 3 6-3 2-5 -9-6 0-6 -5-1 -4-7 0-6 -3-4 3-2 0-6 -9-4 0-2 9-6 -4-5 -6 9 -5-4 0-4 -9-8 6-12 -4-2 -2-4 -6-6 6-4 0-12 8-1 4-7 0-6 -9-4 15-12 -2-4 -8 0 -2-4 3-4 -7-1 -2-5 8-4 2 3 5-7 -6-6 6-6 0-4 -5-1 -4-7 3-6 11-5 4-7 -2-2 -6 3 -4-1 2-8 6 3 4-5 -4-4 -4 0 -1-8 -9-6 2-4 6 3 4-1 0-6 3-4 -3-6 3-8 -3-4 9-2 0-4 -9-8 0-10 9-6 -6-6 0-6 3-2 0-6 4-8 6 3 5-1 0-6 -3-4 3-2 -3-6 3-6 0-6 5-5 6 0 4-7 -10-2 -2-8 10-1 4-6 6 0 1-1 -3-4 4-4 4 3 7-1 0-6 -3-6 8-8 12 0 4-4 -2-5 -6 3 -4-4 4-8 6 0 4 6 10-2 -6-6 3-6 -6-2 5-5 2 0 2 5 4 4 4 0 2 6 5-2 0-6 -9-8 0-6 14-23 2 3 6 0 4-3 4 5 -15 6 1 4 12 0 6-6 16 3 1 5 12 8 0 4 -6 2 5 8 6-3 8 15 11 2 3 6 0 6 8 7 10 1 0 4 -6 6 8 1 6-6 7 7 -3 16 6 6 0 2 -6 6 0 4 4 4 6-3 2 5 4 4 4 0 2-9 8 1 0 6 -9 6 0 6 6 4 0 2 -6 6 7 2 2 4 6 4 0 6 6 2 0 6 3 4 0 8 -1 2 -6-9 -5 1 0 6 9 4 0 6 3 2 -3 4 6 12 -3 2 6 4 -3 6 9 6 0 8 6 4 -3 6 6 6 0 2 -6 4 4 4 4 0 1 4 -9 6 4 5 6 0 5 5 -9 8 3 4 0 8 -3 6 4 2 4-6 4 2 0 8 -3 4 0 14 1 2 4-3 4 1 -6 6 3 4 0 12 -6 6 3 2 0 6 6 4 0 6 -3 2 6 10 -9 2 0 6 3 4 -5 7 -2-3 -8 4 12 10 -3 6 3 14 -6 6 0 10 6 2 -3 4 9 6 0 6 -9 8 -3 6 3 6 6 4 0 2 -7 2 -8 4 0 4 12 14 -6 6 3 6 -5 2zM921 584l-1 1 -11-1 7-8zM932 603l-5-5 3-6 4-1 2 7zM918 620l-2-8 -7 2 1 7zM964 645l-4-5 2-4 4 4zM756 710l-2-5 -4 1 2 5zM976 714l5-4 -1-2 -5 2zM714 898l2-4 10 2 -8 7zM1046 918l-5-2 1-7 5 1zM734 930l1-4 -5-5 -1 7zM1032 934l-2-4 -7 2 1 4zM1040 960l-2-8 6-6 2-7 4 5 0 12 -4 4zM1029 950l-1-5 -8 1 4 5zM742 1005l-1-5 5-4 4 4 -4 5z"/>
<path fill="#0076e0" d="M842 309l-2-5 4-4 4 0 1 4 -5 5zM848 321l-5-1 1-8 8 2 0 2zM998 1098l-18 0 -4 3 -26 0 -4 3 -26 0 -4 3 -128 0 -2-5 6-6 -9-12 3-8 -9-6 3-4 0-8 -2-2 -2 3 -5-1 0-4 9-8 0-6 -4-5 -11-1 1-5 10 0 1-5 -7-1 -5-5 3-2 0-6 -6-6 3-4 -9-6 0-2 8-2 1-4 -11-2 -4-4 3-6 0-6 -6-4 3-6 6-2 -12-10 0-6 -3-2 0-6 3-6 -8-2 -4-4 3-4 -9-6 4-1 2-5 6-2 -3-4 3-8 9-4 0-6 -9-8 3-10 -3-6 -6-2 6-12 6-4 0-8 6-10 -3-2 0-22 -6-2 0-6 6-12 0-12 -7-2 -2-4 4-2 6-6 5 8 -3 2 2 2 7-2 0-8 -6-6 0-4 -6-2 1-5 6 3 5-2 0-8 -3-4 0-14 6-6 0-6 6-4 0-6 -8-1 -4-5 4-4 8-2 -3-6 3-6 -4-1 -2-5 4-1 6 9 5-4 0-6 3-4 -3-2 0-6 1-2 6 0 4 3 4-1 -9-10 -3-6 4-4 4 3 12 0 2 3 2-4 -3-4 0-6 7-1 4-9 6 3 8 0 8-7 0-6 9-10 0-6 -6-6 5-4 2 3 4-3 6 3 6 0 6-3 2-6 4 3 8 0 8 7 -8 2 -4 4 8 5 2-3 6 0 8 8 -9 6 1 10 4 0 6-9 7 1 0 10 3 2 -3 4 1 7 6 0 5-7 -1-5 -8-1 8-8 4 2 0 6 9 8 -6 6 0 4 6 2 1 8 6 0 11 8 -3 6 -6 2 0 4 10 1 6 9 4-3 4 1 0 4 -8 1 -7 7 0 4 7 1 4 3 8 0 2 8 6 6 -4 4 -6-9 -6 0 -5 7 0 6 7 2 6-3 5 5 0 2 -6 4 1 4 6 0 2-8 8-1 1 5 6 6 -7 4 -8 2 0 6 6 6 -3 6 5 1 4-7 0-6 2-2 4 2 0 6 3 2 -3 4 3 6 -6 6 12 18 0 2 -5 2 -4 4 0 4 4 7 8 1 3 6 -3 6 4 8 6-6 5 2 0 2 -9 6 0 6 -4 5 -4 0 -1 5 6 2 0 6 5 5 2-9 5 2 0 8 -9 12 6 4 -6 12 3 6 -3 6 0 6 4 1 2-7 4-2 2 10 -9 4 6 12 -5 1 -6-6 -1 7 6 6 0 6 6 4 -9 6 0 2 6 6 0 6 -6 12 4 5 6 0 4-3 4 2 0 2 -4 5 -4-3 -6 0 -4 4 4 8 11 4 -1 5 -11 1 0 4 6 6 -6 6 0 2 6 6 0 4 -6 6 3 2 0 16 6 6 -4 1 -8 7 3 6 -12 12 0 6 6 6 -5 5 -6 0zM756 728l-4 4 -5-2 1-4zM992 777l4-5 -4-7 -5 7zM734 867l-5-5 1-1 5 1zM724 909l-4-1 2-5 4 1zM728 930l-8-2 0-2 4-5 5 1zM1034 951l-5-1 1-5 5 5zM1028 954l-2-2 2-1 1 1zM1022 1074l-2-8 4-1 2 5zM1018 1092l-4-2 2-7 2 0 5 5z"/>
<path fill="#007ade" d="M998 1098l-18 0 -4 3 -26 0 -4 3 -26 0 -4 3 -116 0 -2-5 -6-2 0-6 6-12 6-6 -12-10 -3-6 3-2 -3-6 0-6 -9-4 0-6 9-6 -5-4 -7-2 3-6 -3-2 0-6 -6-4 3-6 -9-2 6-6 -3-6 3-6 0-6 -7-2 -5-4 3-6 -4-2 -5-8 3-8 -6-4 0-6 -6-6 0-8 -9-6 1-5 11-1 0-6 -3-4 3-2 -3-6 3-4 0-6 -9-8 0-4 8-1 6 6 4-5 -4-4 -4 0 -1-4 5-2 7-8 -1-4 -10 0 -4-4 4-5 6 0 2-5 -12-2 4-8 6 3 2-5 -3-2 9-6 -2-5 -6 3 -4-4 3-4 0-6 6-12 0-12 3-2 0-10 -3-2 5-5 6 0 4-11 -14-4 -1-10 -3-4 9-6 -3-6 9-2 -3-10 4-1 5-7 -9-4 3-8 5-2 1-4 6-4 0-6 -6-2 0-6 5-5 6 3 1-2 0-6 15-14 0-6 -3-4 1-1 10 0 8-12 6 0 10-9 6 3 6 0 1-5 6-6 0-2 5-5 6 0 2-3 2 4 8 5 6-3 4 4 4 14 4 0 6-9 7 1 0 6 -6 4 0 6 7 7 6 0 4-3 1 2 0 6 -6 6 5 4 2 0 6-9 5 1 0 6 -5 2 -1 4 6 6 1 5 8 1 0 10 -3 2 5 5 6 0 4 5 -3 2 0 6 -3 6 9 12 0 6 7 8 4 0 2 6 8 2 0 12 6 6 0 2 -9 10 7 1 2 5 6 6 0 6 -3 2 3 4 0 6 9 8 0 10 3 2 -3 4 3 2 -6 4 0 6 3 2 -3 6 9 4 0 6 6 2 0 6 6 6 0 4 -6 2 3 6 -3 6 6 6 -3 4 3 8 -3 4 0 8 -3 4 0 14 -3 4 2 4 6-3 1 7 -3 4 0 8 -9 10 9 8 0 6 -6 4 0 6 9 6 0 8 -7 2 -6-3 -2 5 6 6 -3 6 5 4 2 0 11 10 0 4 -5 4 -2-6 -10 0 -4 8 6 2 0 6 6 4 -3 2 3 4 -12 12 0 6 4 1 5 5 0 2 -6 6 0 10zM934 645l-1-5 5-4 2 0 2 4zM754 747l-1-7 5-2 1 4zM742 855l-1-5 5-4 1 4zM1008 866l-2-5 -7 1 1 5zM1004 963l1-1 -1-5 -2 1zM772 1023l-2 0 -5-5 5-4 4 4zM1018 1092l-4-2 2-7 2 0 5 5z"/>
<path fill="#007edc" d="M1000 1095l-8 0 -4 3 -8 0 -4 3 -26 0 -4 3 -26 0 -4 3 -116 0 -2-1 2-8 2 0 2 4 4 2 8-8 0-2 -8-2 -2 3 -5-5 -3-8 6-6 -3-4 0-8 -1-2 -6 3 -5-5 3-2 -3-10 9-2 0-4 -4-1 -5-7 6-12 -5-2 -2 3 -8-7 9-12 0-4 -7-1 -4 9 -7-2 3-6 0-8 -6-6 0-4 4-4 6 3 2-5 -4-4 -6 0 -2-8 9-6 -5-7 -6 3 -2-3 -4 3 -7-2 5-1 7-7 0-4 -5-4 -2 3 -6-3 -2-4 6-6 -2-2 -2 3 -6 0 -2-7 -3-4 5-7 6 9 4-2 -6-6 6-6 0-2 -6-6 3-6 -6-6 3-10 6-6 -4-4 -4 0 -1-4 5-2 7-8 -3-6 0-6 8-1 4-5 -6-6 6-12 0-8 -2-2 -8 6 -4 0 -4-4 8-2 6-9 2 3 5-4 -6-4 3-8 -4-5 -4 0 -1-5 3-2 0-6 6-6 6-12 -2-5 -7-1 3-4 0-6 6-6 -3-6 3-2 -3-6 6-4 0-6 -3-2 3-6 0-12 6-4 1-7 11-1 0-6 -3-4 3-6 6-2 -6-6 0-4 7-7 4 3 12-9 6 0 7-11 -3-8 4-2 6 3 2-5 8-1 1-5 7-7 12 9 6 0 6 6 16 0 2-3 5 5 -7 4 -6-3 -6 3 -2 4 10 2 4 3 18 0 1 1 -1 5 -8 1 4 5 6 0 5 5 0 12 6 2 -3 10 4 4 5-2 0-12 1-1 8 1 0 10 -6 8 6 6 0 4 6 6 6 12 0 6 -3 2 3 4 0 6 4 4 6-6 5 2 0 14 9 4 0 2 -9 12 0 6 1 2 6-3 5 1 -3 6 2 8 2 0 6-6 2 2 0 6 -9 6 0 2 6 4 0 6 -3 6 18 14 -6 4 0 6 -4 1 -2 5 6 6 2 4 6-6 1 2 0 8 -5 2 -2-3 -5 5 3 6 6 2 -3 16 7 1 11 7 -3 6 -6 4 0 2 6 4 -2 4 -2 0 -11-10 -1-5 -5 5 3 2 0 6 15 10 0 14 -3 4 3 6 -6 6 0 6 6 6 -5 4 -6 0 -4 4 0 4 4 1 4 6 2-12 8 7 0 6 -6 4 3 14 -5 5 -2 0 -6 9 -5 2 7 4 4-9 4 5 -3 6 6 6 -3 6 2 1 2-3 5 2 -1 4 -10 0 -1 4 -6 4 0 6 3 2 -3 6 0 10 3 2 0 12 -12 22 4 4 6-3 2 1zM976 780l2-8 -4-1 -2 5zM752 831l-8-1 4-8 5 4zM784 1044l-4-2 2-7 4 1zM807 1058l-1-8 -8 2 0 2 4 5z"/>
<path fill="#0082da" d="M976 1101l-26 0 -4 3 -26 0 -4 3 -104 0 -2-5 6-6 0-6 3-2 -15-12 6-6 0-4 -8-1 -7-7 1-2 6 3 5-1 0-6 -9-4 0-6 3-2 -5-5 -7-1 0-4 5-4 12 6 1-8 -12-6 3-8 -9-6 3-10 -6-2 0-6 -12-4 6-2 6-12 -4-2 -6 6 -8-2 0-6 4-4 6 0 5-4 0-4 -12-8 6-6 -5-5 -6 6 -4-1 0-6 6-4 -6-8 6-4 -3-8 6-6 -7-2 -4 3 -1-5 -6-6 0-2 7-2 4 3 4-5 0-2 -6-4 6-6 0-6 -15-12 6-6 9-18 -6-6 0-2 12-4 0-2 -6-6 0-6 4-2 2-4 -3-6 -6-4 0-2 5-5 2 0 2-5 -6-2 3-4 -1-4 -4 3 -4-1 0-6 4-2 6 3 5-5 -3-26 -6-4 8-7 2 3 2-2 -3-6 3-6 -3-6 9-6 -6-6 6-12 -3-6 0-6 11-1 7-7 0-6 3-4 0-8 4-2 6-9 10 9 4-4 -3-4 0-8 3-6 12-12 2-5 8 0 4 3 12-9 4 5 -3 6 1 1 6 0 4-3 13 2 -9 6 0 6 -3 2 1 5 8-1 -3-6 1-2 6 0 5 4 -3 4 2 4 6 0 2-6 5 8 -3 2 0 6 2 2 6-3 2-6 5 5 0 12 6 2 -3 10 4 4 4 0 2-6 5 4 -6 12 5 5 2-3 5 4 -6 6 0 4 6 6 0 8 9 4 0 2 -4 2 -2 4 2 2 6-3 1 11 6 2 -5 2 -1 4 5 5 10 1 -6 6 0 4 12 12 0 2 -6 6 4 11 6 0 4-3 1 2 0 6 -6 6 0 8 6 6 -3 4 0 6 6 6 -3 2 0 18 9 6 -3 6 6 6 -3 10 -6 2 3 4 3 14 9 6 -1 5 -8 1 0 6 9 4 -6 6 0 6 6 6 0 6 -5 1 -2-9 -5 4 3 6 0 16 4 1 2 5 -12 2 3 6 6 4 0 2 -6 4 3 2 -3 6 0 16 -6 2 0 4 7 7 6-3 2 2 -2 7 -2-3 -5 2 -3 6 0 6 -3 2 3 6 8 2 1 4 -5 5 -6-3 -4 2 3 2 0 10 -3 6 8 1 6-3 1 4 -6 12 -6 6 0 6 -7 2zM999 880l1-4 8 2 -8 4zM1000 1041l-4-1 2-8 4 4zM999 1060l-1 2 -8-2 4-4z"/>
<path fill="#0086d8" d="M976 1101l-26 0 -4 3 -26 0 -4 3 -98 0 -2-1 9-10 0-2 -12-12 0-4 7-1 4 9 7-2 -7-13 -6 3 -2-2 0-8 -3-4 3-6 -3-2 0-6 -5-2 -2 6 -8-2 0-6 8-1 1-7 6-4 0-8 -1-2 -4 3 -6 0 -6-3 -1-4 3-6 -9-6 1-5 6 0 6 3 5-4 -3-4 0-6 -4-4 -4 3 -6-9 -10-2 6-8 -6-6 3-10 -9-6 9-6 -6-2 3-4 0-6 3-6 -5-4 -2 3 -8-1 0-6 6-6 0-4 -6-6 0-6 3-2 -3-10 8-1 2 3 2-4 -8-2 -4-4 0-4 8-1 4-5 0-2 -8-2 -1-4 3-4 0-8 9-4 -9-8 0-12 -6-6 2-5 6 6 1-1 0-6 -3-4 6-6 -6-8 0-10 8-1 4-5 0-2 -4-2 -5-8 0-12 -3-6 4-1 6-9 8-2 -12-8 2-5 10-1 0-4 -9-6 0-2 9-6 0-4 -4-1 -5-5 0-2 18-16 3-6 -3-2 0-6 5-2 6 3 1-5 -3-2 3-6 7-5 4 3 6-6 4-2 3-8 -6-6 1-2 6 0 6-3 4-6 4 1 2 8 2 0 5-4 -6-6 0-4 5-4 8 9 6 0 4-3 4 4 0 4 -4 1 -4 6 -2-3 -6 0 -2 2 2 7 12-6 2 6 6 0 4 3 2-3 4 3 6 0 2-6 5 8 -3 2 0 6 6 6 2 5 2-3 12 18 4 0 2-6 5 4 0 4 -5 4 -2-3 -6 0 -2 5 6 6 0 6 8 1 4 7 -6 6 9 6 3 6 0 6 3 4 0 8 6 12 0 4 -6 2 6 6 0 6 6 6 0 6 3 4 0 6 -3 6 6 6 3 8 6 4 0 6 -3 6 -6 2 0 4 5 1 2-6 5 5 -3 6 9 2 -1 14 -6 0 -4-6 -7 2 0 2 9 10 0 2 6 4 -3 2 0 10 6 6 0 6 -3 2 8 8 4 2 0 6 -6 2 0 4 6 6 -3 2 3 6 -3 6 0 10 3 2 0 12 -6 10 3 6 0 6 -3 2 0 10 3 2 -12 4 3 2 -2 8 -2-3 -5 1 1 8 4-3 6 0 1 5 6 6 0 8 -9 6 0 4 6 6 0 8 -4 2 -2 4 -6 4 9 6 -3 2 0 10 4 4 4 0 1 4 -6 6 0 6 -7 2zM994 873l-7-1 1-8 8 4zM980 903l4-1 -2-8 -4 4zM813 1012l-1-7 -11 1 1 8z"/>
<path fill="#008ad6" d="M872 618l-5-2 1-7 5 1zM986 1098l-6 0 -2-4 -4-2 -4 9 -20 0 -4 3 -26 0 -4 3 -90 0 -4-5 3-8 -6-6 12-4 -9-18 -9-6 3-6 -3-2 0-6 5-5 8 3 5-4 -5-8 -6 6 -4-4 0-4 4-1 2-5 -8-1 -4-5 3-2 0-12 -9-10 0-6 -6-12 -4-4 -8-2 0-6 6-8 0-16 -4-4 -6 3 -5-1 6-12 -3-6 0-6 3-4 -9-8 6-10 -6-6 6-6 -3-6 6-6 -3-6 0-6 6-2 0-6 -3-4 0-6 -9-8 6-6 0-6 9-10 -12-14 9-6 -3-4 0-8 3-6 -6-4 -3-8 1-2 10 6 4-4 -6-10 6-6 -6-8 6-4 0-8 -3-4 6-6 0-6 3-2 0-4 -6-6 0-6 6-6 -3-6 5-4 6 0 2-3 6 3 6 0 2-2 -4-7 -6 3 -8-4 4-5 6 0 12-18 4 3 6 0 6-3 1-7 5-2 6-9 8 0 4 6 12-6 2 6 8 1 2 11 2-3 11 10 1 5 6 0 5 5 0 6 -6 2 7 8 4-3 10 11 0 14 6 4 0 2 -9 6 7 2 6 9 6 0 5 5 -15 12 0 6 6 2 0 6 4 8 6-3 5 1 0 6 3 4 -6 6 0 2 12 4 0 6 -3 6 6 6 0 2 -6 6 9 6 3 10 -5 1 -1 5 9 6 -12 2 0 6 9 12 -6 6 12 12 0 6 -3 4 0 6 3 2 0 10 -3 6 3 6 9 6 -4 1 -2 5 9 12 0 6 3 2 -12 6 0 12 -3 4 3 8 -9 6 6 6 -6 4 0 6 3 2 -3 6 0 10 9 8 -12 4 8 7 2-6 5 5 -3 2 0 6 -15 10 1 4 4 0 6-9 4 5 0 2 -6 4 0 6 9 6 -5 7 -6-3 -4 2 0 12 2 1 2-3 5 4 0 6 6 6zM879 640l-1-7 -8 1 2 5 6 3zM795 782l-1-5 -8 1 4 5zM996 896l-2 7 -6 0 -4-5 4-4zM784 954l-1-2 1-10 5 4 0 4zM982 981l-1-5 5-4 4 4zM993 988l-7 2 -2-4 4-2zM820 1056l2-2 -2-4 -1 2z"/>
<path fill="#008fd6" d="M962 1101l-12 0 -4 3 -26 0 -4 3 -84 0 -1-1 6-6 0-6 -1-2 -4 3 -4-1 0-6 3-4 -9-14 3-10 6-6 -5-7 -6 3 -4-4 2-5 8 3 5-4 -3-4 0-6 -4-1 -4-6 -6 0 -4-5 3-2 0-12 -9-10 6-6 -2-4 -2 3 -5-1 0-4 9-6 -3-8 -6-6 6-6 -9-6 3-6 -6-6 0-6 -6-6 0-10 -6-6 9-2 0-6 -2-2 -2 3 -8-7 8-2 4-4 0-10 -3-2 3-10 -4-7 -6 3 -2-8 6-2 0-6 -3-6 12-16 -9-6 6-2 0-6 -3-4 0-8 -3-4 9-14 0-4 -6-2 0-16 3-2 -6-10 6-6 -6-8 6-4 0-8 -3-4 7-7 6 3 5-8 -9-2 3-6 0-6 -5-2 -2 3 -2-5 4-4 10 0 4-4 -10-2 -2-2 2-4 6 0 2-3 6 3 8-2 -6-8 0-6 4-8 18 0 10-12 7-2 -3-6 2-7 7 5 1 10 6 0 10 6 2-6 6 0 4 6 6 3 2-3 5 4 0 4 -6 2 1 2 6-3 8 1 -3 6 3 4 -3 2 7 8 4-3 7 7 -6 12 6 6 0 16 3 2 0 6 -3 6 5 5 7 1 -3 4 0 6 6 2 0 6 3 6 9 6 -3 6 3 6 0 10 -3 6 1 1 4-6 2 0 5 5 -3 6 0 12 -3 6 7 1 5 5 0 12 -6 12 5 7 2-3 5 4 -6 6 6 6 -3 6 0 6 3 4 -3 2 3 6 0 6 -6 4 0 6 5 1 2-3 5 4 0 10 9 18 -4 4 -6-9 -5 5 0 2 9 12 0 12 -9 6 0 12 6 6 -6 4 0 6 -3 2 3 6 0 10 3 2 -6 10 6 6 -3 6 3 6 -9 6 0 12 6 2 -3 6 0 18 3 6 -5 5 -6 0zM868 633l-1-5 5-4 1 8zM902 672l4-4 -2-5 -7 1 0 4zM778 891l-4-5 8-7 1 11zM970 951l5-5 -1-4 -8 2 0 2zM976 1059l-1-1 1-2 2 2z"/>
<path fill="#0095d5" d="M946 1104l-26 0 -4 3 -84 0 -1-1 5-5 2 3 8-10 -10-5 -11-13 7-8 8-2 0-2 -4-2 -2-4 -6-6 6-6 0-4 -6-6 0-6 -6-2 0-6 3-4 0-12 3-6 -15-2 3-6 0-12 3-6 -5-2 -2 3 -5-5 0-2 9-10 0-8 -4-2 -6 6 -6-3 -2-5 9-8 -1-2 -4 3 -6 0 -1-7 -6-6 0-6 6-6 -3-4 0-12 3-2 0-6 -6-12 3-10 -6-8 4-2 8-8 0-2 -9-10 0-6 6-6 0-8 -6-10 0-6 6-6 0-2 -6-4 6-12 -6-2 0-6 9-4 0-2 -6-6 8-2 4-4 -6-12 6-10 -6-14 4-2 5-8 -7-1 -2-5 9-12 0-6 11-10 4-2 -3-2 1-5 4 0 2 6 11-1 -5-5 -7-1 5-5 7-1 -3-4 2-4 12 0 2-9 5 5 -3 6 4 1 11-11 1-4 2 8 4 4 5-10 7-2 2 8 -3 6 7 4 11 2 0 6 -5 1 -1 5 5 4 6-6 4 4 9 18 0 10 6 6 0 6 3 2 0 6 -3 6 5 5 7 1 -3 4 0 6 6 2 0 6 6 10 -3 6 3 2 -3 4 0 12 7 7 6-3 5 2 -3 6 0 12 -3 6 9 2 0 4 -6 6 0 2 6 6 0 6 -3 4 3 2 0 6 -3 4 9 6 -6 2 -3 10 7 1 5 5 -11 1 -1 5 6 8 0 10 5 1 1 5 6 6 -3 2 0 12 -3 4 3 8 -12 4 3 8 6 6 0 6 -5 2 -4 4 0 4 4 4 4-3 7 7 -15 4 0 2 6 6 0 4 -6 2 0 6 -3 4 0 6 6 6 0 6 -9 6 2 4 6 0 4 4 -2 2 -6 0 -2-3 -2 1 0 6 9 4 0 12 3 2 -4 2 -8 8 2 4 6 0 2-3 2 5 -6 6 3 6 -5 1 -2 6 -12 0zM807 676l-7 2 -2-4 8-2zM974 1020l-2-8 4-1 2 1z"/>
<path fill="#009ad4" d="M962 1101l-12 0 -4 3 -26 0 -4 3 -62 0 -2-1 0-6 -6-6 0-6 -9-6 6-6 0-6 -3-6 -6-4 10-1 4 6 2 0 2-5 -8-7 -2 0 -4-6 -4-1 9-18 -5-2 -6 3 -1-7 3-6 -2-2 -2 3 -5-1 0-10 3-6 -9-2 6-6 0-4 -9-6 3-8 -6-10 3-6 0-8 -3-4 0-6 -15-8 3-4 -1-4 -6 3 -5-1 0-6 5-5 6 0 4-7 -9-12 0-6 -6-12 3-10 4-4 8-2 -6-6 0-8 -9-10 0-6 7-7 5-1 0-6 -9-4 0-2 8-2 1-4 -9-6 3-6 -6-4 9-14 0-6 2-2 6 3 4-5 -9-6 0-6 6-8 0-6 -6-4 3-6 -3-8 6-4 -3-8 9-12 -6-6 0-10 11-10 6 0 6 3 7-7 -3-4 4-7 10 0 12-9 4 2 2 7 6 0 1-7 7-2 2 8 4 4 6 0 12 18 8 2 0 8 2 2 2-3 5 1 0 4 -6 2 0 6 5 2 2-3 5 5 0 6 3 2 0 6 -3 4 3 6 0 6 -3 2 6 10 0 6 5 4 6-3 4 5 0 2 -4 5 -4-3 -1 4 6 4 0 12 6 6 0 2 9 6 0 6 -9 4 3 2 0 10 6 2 0 6 6 6 -2 5 -6 0 -4 5 9 12 -3 6 0 8 6 6 0 4 -4 4 -4 0 -1 4 3 6 9 6 -3 6 0 6 6 4 -3 2 0 12 3 4 0 8 -4 2 -2 4 9 12 0 6 -9 6 6 12 -10 5 -8 7 8 2 6-6 4 4 -2 5 -6 0 -4 5 3 2 0 10 -6 6 6 2 0 6 -3 6 8 2 4 4 -2 2 -6 0 -2-3 -2 1 0 6 3 4 -3 6 8 1 4 7 -8 5 -2-6 -6 0 -2 1 9 6 -5 5 -6-3 -1 2 0 8 3 4 -3 2 11 2 1 2zM924 716l-2-5 -4 1 2 5zM796 840l5-4 -1-2 -5 2zM832 1041l-1-1 1-2 2 2zM844 1107l-4-1 2-5 4 5z"/>
<path fill="#009ed2" d="M944 1104l-24 0 -4 3 -62 0 -2-1 0-6 -6-6 0-6 -9-6 15-18 0-4 -6-6 3-2 0-12 -6-6 0-6 -6-4 6-8 -3-4 0-8 -4-2 -6 6 -5-2 3-2 0-10 9-6 -5-4 -2 0 -4 6 -4-4 3-6 -9-10 0-2 6-4 -6-6 0-8 4-2 2-4 -14-5 -1-5 3-2 -9-4 0-18 3-2 -3-4 5-1 1-5 -5-4 -2 3 -5-1 0-4 6-2 0-24 3-4 -6-6 0-8 -3-6 9-10 -3-2 0-34 6-8 -7-8 -5-2 3-2 2-8 6 9 4-1 -3-4 3-6 -9-6 0-6 9-18 -3-6 3-2 0-6 -6-12 3-6 7-8 5-2 0-6 -9-8 4-5 10 3 12-9 2 3 5-4 0-4 -6-6 11-1 2-3 2 8 -3 2 5 5 1-7 6-4 -6-6 5-4 4 2 2 7 10 1 2 11 8 0 6-9 5 4 0 6 -3 6 8 2 1 8 9 2 4 17 6 3 4-3 4 7 0 6 -12 18 8 8 2-3 5 5 0 6 6 6 0 6 -6 2 0 6 3 6 4 5 6 0 8 11 0 6 -3 2 3 6 0 12 -3 4 6 6 0 8 -3 4 6 6 0 2 -6 4 6 6 0 8 6 6 0 4 -9 6 3 6 0 6 3 2 0 6 -3 6 12 4 -3 2 0 12 -6 10 0 6 -6 2 5 5 2-3 5 2 -1 7 -6-3 -5 2 1 10 6-3 5 1 -3 6 0 6 -3 4 3 6 -4 1 -8 7 3 4 -3 8 9 4 0 6 -9 12 9 12 -9 12 3 2 0 10 -3 2 9 6 -5 5 -6-3 -1 2 0 8 3 4 -12 12 3 2zM884 663l-5-1 1-5 5 1zM924 716l-2-5 -4 1 2 5zM944 774l-5-2 1-4 5 2zM794 885l-5-7 1-5 5 1zM858 1088l-4-5 -5 1 1 5zM963 1096l-1 5 -8-1 4-5z"/>
<path fill="#00a2d0" d="M944 1104l-24 0 -4 3 -62 0 -2-1 0-6 -6-6 0-4 12-2 -3-4 -1-7 -6 3 -5-4 1-5 6 0 5-5 0-2 -6-6 5-2 1-4 -6-4 0-8 -6-6 0-6 9-10 0-2 -12-4 0-8 -6-10 3-6 -5-4 -2 0 -4 6 -4-4 0-4 6-6 0-6 -3-2 0-10 -3-2 0-12 -9-4 3-8 -9-6 9-12 -3-4 0-12 -3-2 0-6 6-4 0-6 -8-1 -1 5 3 2 -8 5 -1-1 0-24 6-6 -3-6 3-6 -6-6 3-4 -3-2 3-4 -3-2 0-16 7-1 2-7 -2-2 -6 3 -1-1 0-10 6-8 -7-8 -5-2 3-2 2-8 6 9 4-1 -3-4 3-6 -3-2 0-10 9-6 0-6 -6-6 6-8 -3-6 3-4 -6-6 0-6 -3-2 5-5 6 6 4-5 0-6 -6-8 10-11 4 0 6-6 2 3 6-6 6 0 4 3 1-7 7-5 4 6 8-3 4 9 12 0 6 9 7 2 1 7 8 1 3 6 0 10 6 2 -3 10 9 2 0 6 -9 12 8 8 2-3 5 5 0 6 6 6 -1 4 -8 2 3 2 0 6 3 6 6 6 0 10 6 6 0 2 -6 6 4 5 4-6 4 1 0 12 -3 4 0 8 -6 4 0 6 11 1 4 5 -2 4 -8 0 -2 4 12 4 0 6 -6 6 0 2 9 6 -6 4 3 6 0 6 3 2 0 6 -3 4 3 6 -3 6 0 6 3 2 -3 4 3 6 0 6 -6 2 3 4 -8 1 -1 5 6 2 0 6 6 6 -6 6 -6 12 6 12 -9 10 0 2 6 6 -9 6 3 4 -3 6 12 6 -6 6 0 6 -6 2 3 10 6 6 -3 6 0 8 3 4 -12 12 3 2zM813 872l-1-2 -8 2 2 1z"/>
<path fill="#00a5cc" d="M944 1104l-24 0 -4 3 -56 0 -2-7 -8-2 -4-4 2-5 8 0 5-5 0-8 3-6 -4-2 -4 9 -2 0 -5-5 6-6 0-2 -6-6 11-2 1-4 -12-4 0-20 -3-4 6-6 0-2 -3-4 0-12 -5-4 -10-2 3-6 -6-6 6-2 0-4 -6-6 3-2 -3-4 3-6 -12-2 0-10 4-1 2-5 -4-4 -4 0 -4-4 3-4 -9-6 0-2 6-6 -3-4 0-12 6-6 0-2 -3-4 -3-14 6-4 0-6 -5-1 -6 6 -4-1 3-6 -3-10 3-2 -6-6 5-5 2 0 5-7 0-4 -6-6 0-6 3-2 0-16 3-2 -9-10 0-6 8-1 4-7 0-6 -4-5 -4 6 -1-1 0-10 5-1 7-11 0-6 -6-2 3-6 -3-6 3-4 -3-2 9-16 0-6 -6-8 4-5 6 3 2-8 8-7 2 3 4-3 6 3 6 0 7-8 1-4 6 6 6 0 4 3 12 0 7 11 0 8 -3 4 2 1 8-6 8 1 -6 6 0 4 9 2 0 6 -3 4 6 6 0 12 3 2 -3 6 6 6 0 6 8 2 4 4 -8 2 -2-3 -2 5 9 8 0 6 6 10 -6 6 5 4 2-3 5 7 -1 2 -6 0 -4-3 -1 5 5 4 2 0 2 4 6 6 -3 4 0 6 6 2 0 6 -6 4 0 6 12 2 -9 10 -3 6 1 7 6-3 5 4 -6 10 9 12 -6 12 -6 2 0 6 6 6 -4 5 -4 0 -1 5 5 4 2 0 4-6 2 0 5 4 -5 8 -7 2 0 6 9 6 -9 2 0 4 6 2 0 10 -6 6 0 6 -9 6 4 1 11 11 0 2 -9 10 0 2 6 6 -9 6 3 4 -3 6 6 2 -3 6 3 4 0 6 -5 1 -1 5 -6 2 1 5 8 1 -3 4 0 8 -6 4 5 4 6-3 4 5 -4 4 -6-3 -5 1 6 12zM828 928l-2-4 -4 2 4 4z"/>
<path fill="#00a8c9" d="M916 1107l-36 0 -2-3 -6 3 -14-1 0-6 3-6 6-4 0-2 -6-4 0-8 3-6 -9-4 6-12 0-2 -6-6 3-6 -2-2 -6 3 -1-1 1-8 4 3 4-1 -6-12 4-2 2-4 -9-4 0-12 -6-6 0-6 -6-12 -6-6 5-4 2 0 2-4 -4-5 -14-1 2-5 6 0 6-3 1-4 -9-4 6-6 0-2 -4-2 -2-4 -4-2 -8-8 3-6 0-6 -6-2 0-4 6-6 -3-6 0-6 3-6 -6-2 6-4 0-6 -6-2 0-6 5-2 4-8 -4-4 -8-2 0-6 9-8 0-4 -9-8 0-16 3-2 -6-6 0-4 6-6 0-6 3-2 0-6 -6-10 9-12 0-6 -5-1 -1-5 9-6 0-2 -9-6 1-2 6 3 5-1 0-10 3-2 -6-6 0-6 6-6 0-6 8-2 6-9 6 3 14-3 4-6 2 3 6 0 6 3 4 6 8 0 5 5 0 8 -3 4 2 1 6-3 7 10 -3 4 3 2 0 10 3 2 0 6 -3 4 9 8 -3 4 3 6 9 6 -3 6 9 8 0 10 -3 2 6 12 -3 10 9 6 -3 8 6 6 0 6 -3 4 3 2 0 18 3 6 -6 12 0 10 2 1 6-9 4 4 -3 4 3 2 0 22 -6 2 0 6 6 6 -9 6 3 6 0 6 -4 2 -2 4 3 4 0 6 3 6 -4 1 -2 5 4 4 4-3 7 5 -5 4 -6-3 -1 7 -6 6 12 10 0 2 -9 6 0 4 6 6 -6 12 6 6 -3 6 5 1 1 5 -6 6 0 2 -6 4 0 12 3 2 -6 6 0 6 3 4 -6 6 9 8 -8 8 -14 0zM951 886l-5-4 -4 2 2 4zM824 936l-4 0 -4-4 4-5 5 1zM946 1092l-4-4 8-5 4 5 -4 4z"/>
<path fill="#00abc4" d="M916 1107l-36 0 -13-11 0-8 -6-4 1-7 11-1 -12-16 6-2 0-6 -7-2 -5-4 3-4 0-12 3-6 -3-2 0-6 -6-4 6-6 -4-7 -6 0 -5-5 0-8 6-12 -18-4 9-6 -3-6 3-8 -4-8 -8-2 6-6 0-2 -4-2 -2-4 -9-6 7-2 5-8 -7-7 -5-1 3-4 -6-12 0-6 3-6 -6-2 6-4 0-8 3-4 -3-6 3-6 -3-6 6-2 -9-6 3-6 0-6 3-4 -6-6 3-2 -3-4 0-6 -9-8 0-4 6-6 0-6 6-6 0-8 -1-2 -4 3 -4-5 9-12 0-6 3-2 -3-6 3-4 0-6 3-2 0-10 3-2 -6-6 0-6 6-6 2-8 6 0 2-3 10 3 2-6 6-3 6 0 4 3 6-6 8 3 4 6 8 0 5 5 0 8 -3 4 2 1 6-3 7 10 -3 4 3 2 0 10 3 2 0 6 -3 4 9 8 -3 4 3 6 9 6 -3 6 6 6 -6 8 9 4 -3 2 6 12 -3 10 9 6 -3 6 3 6 -6 2 0 6 3 4 -3 2 3 4 0 6 9 12 -3 6 0 6 -3 2 0 10 3 2 -3 6 3 4 0 6 -6 2 1 5 8 1 0 6 -12 10 6 12 0 8 3 4 0 6 3 2 0 4 -6 2 3 6 -6 4 0 2 6 6 -6 6 3 4 0 6 6 2 0 4 -6 2 6 12 -3 6 -5 2 -4 8 8 7 6 0 1 5 -6 6 0 2 -6 4 0 12 3 2 -6 6 0 6 3 4 -6 6 3 2 -6 6 0 4 6 2 -2 2 -14 0zM942 950l-6-6 -2-5 -4 5 8 7zM855 988l-1-1 -5 5 5 1zM927 1090l-1-4 -5 2 1 4z"/>
<path fill="#00adc0" d="M916 1107l-36 0 -13-11 0-12 6-8 -6-6 0-4 6-6 0-2 -6-4 -3-8 -6-6 6-6 0-4 6-2 0-6 -2-2 -6 3 -4-1 0-6 3-6 -9-12 3-10 -1-1 -4 3 -7-2 9-6 -3-8 -9-6 0-6 6-6 -6-6 4-5 4 0 1-5 -7-4 -6 0 -2-4 -6-4 0-6 6-2 0-10 -15-8 5-8 6 3 1-5 -9-6 0-6 -3-6 -6-2 6-4 0-8 3-4 -3-6 3-6 -3-6 6-2 -9-6 3-6 0-6 3-4 -6-6 3-2 -3-4 0-6 -9-8 0-4 5-4 7-2 -6-6 6-6 0-8 6-4 0-2 -9-6 6-12 -3-6 3-4 0-6 3-2 0-10 3-2 -6-6 0-6 8-8 6 0 2-9 10 3 1-4 7-5 6 0 6 9 6-3 4 3 6-3 8 0 5 5 0 8 -3 4 4 4 6 0 5 4 -6 4 0 8 6 4 0 6 -3 2 12 12 -3 4 3 2 0 12 4 2 8 8 -6 8 9 4 -3 2 6 12 -3 10 9 6 -3 6 3 6 -6 2 0 6 3 4 -3 2 3 4 0 6 6 6 -5 1 -6-3 -1 8 5 1 1 5 6 2 -3 6 0 10 3 2 -3 6 3 4 0 6 -6 2 0 6 -3 4 3 6 -3 6 3 8 -3 4 0 6 -6 6 9 8 6 12 -9 6 0 10 -6 2 4 5 4-3 4 2 0 6 -3 2 0 30 -3 4 6 6 -2 4 -6-3 -1 1 3 6 0 6 -6 4 9 6 0 6 3 2 -9 12 0 10 3 2 -10 14 -6 0zM927 1090l-1-4 -5 2 1 4z"/>
<path fill="#00b0bb" d="M916 1107l-36 0 -1-7 6-4 -1-4 -6 0 -6 6 -5-2 0-6 9-2 0-4 -6-6 6-6 0-6 -6-2 3-6 6-4 0-8 -5-5 -1 7 -7 2 -2-4 -6-6 4-5 4 3 4-2 0-14 -15-18 12-12 -5-8 -6 3 -4-1 0-6 -9-18 3-6 -6-6 4-5 4 0 2-6 5-1 -5-5 -6 0 -2 3 -8-2 0-6 9-6 0-6 -3-6 -6-2 3-6 -6-4 0-6 -9-6 0-6 -3-2 6-12 -6-18 9-6 0-6 -8-2 -4-4 3-6 0-6 3-4 -6-6 3-2 -6-12 0-4 6-2 -3-6 6-6 -3-16 1-1 4 3 4-2 -3-6 0-12 -6-2 3-6 -3-6 3-4 0-6 3-2 0-10 3-2 -6-6 0-6 8-8 6 0 2-9 10 3 1-4 7-5 6 0 6 9 6-3 10 6 6 0 2-3 5 2 0 8 -3 4 4 4 6 0 5 4 -6 4 0 8 6 4 0 6 -3 2 6 12 6 6 0 12 9 6 -6 6 5 8 7 2 -3 2 3 10 -9 2 9 6 0 12 5 2 4 8 -6 2 0 6 3 4 -5 4 -2-3 -2 5 15 12 -5 1 -8-6 -5 1 0 4 6 6 -3 2 0 10 12 2 0 12 -9 4 5 4 7 2 0 6 -6 2 0 6 -6 12 3 6 -6 6 6 6 0 4 -6 6 9 8 0 4 -3 2 0 6 -9 4 9 6 0 6 -6 2 4 5 4-3 4 2 0 6 -9 2 0 6 6 4 0 14 -9 4 0 6 6 2 -3 4 3 14 -6 4 4 4 4 0 1 4 -6 6 3 4 0 6 -6 12 0 8 -2 2 -6-3 -4 5 3 2zM928 906l5-4 0-4 -5-4 -4 8zM854 957l4-7 -2-2 -7 2 0 6zM866 1008l2 0 5-4 0-4 -5-4 -4 8zM927 1090l-1-4 -5 2 1 4z"/>
<path fill="#00b2b6" d="M910 1107l-30 0 -1-1 0-6 5-2 1-8 6-2 -7-2 -4-3 -6 0 -4-5 6-6 0-8 3-4 0-14 -3-4 3-2 -9-12 0-6 -6-6 8-2 2 3 2-7 -3-4 0-6 -5-4 -4 8 -2 7 -7-7 12-12 -5-8 -6 3 -4-1 0-6 -3-6 6-6 -5-5 -2 3 -5-4 0-4 5-4 6 3 4-7 -12-4 3-6 6-2 -5-5 -6 0 -4-7 3-4 0-6 -3-6 -6-2 6-6 0-6 -2-2 -6 3 -1-1 0-6 3-4 -9-8 -3-6 3-10 -6-12 0-2 9-6 0-6 -8-2 -4-4 2-5 8 6 2-1 0-6 -9-4 3-6 -6-6 9-6 0-6 -6-6 -3-8 6-6 0-6 6-6 0-6 -3-4 6-6 0-6 -6-8 3-6 0-6 3-4 0-2 -6-4 0-6 6-6 0-2 -9-6 8-8 6 0 2-9 10 3 1-4 7-5 6 0 6 9 6-3 6 3 5 4 0 6 7 2 8 8 3 14 6 4 0 6 -3 2 3 4 -3 2 0 6 4 5 4-3 4 4 0 18 6 4 -3 2 3 4 0 20 9 6 0 12 -6 12 3 6 0 12 -3 4 0 6 6 6 -3 2 0 12 4 8 6-3 2 7 -9 4 6 6 -3 6 -4 1 -4-3 -4 8 12 12 -3 2 3 6 -6 6 6 6 0 4 -6 6 3 2 0 10 -6 6 0 6 6 12 -3 2 3 4 0 6 -6 2 0 6 11 2 1 8 -1 1 -6-6 -2 1 3 6 -3 4 0 12 -3 2 0 10 -3 2 4 2 6-3 2 7 -6 4 3 6 -6 2 -3 10 4 1 6-3 2 8 -9 2 0 6 -6 4 3 6 -4 4 -4 0zM896 690l-5-4 1-8 5 2zM828 788l-2-5 -4 1 2 5z"/>
<path fill="#00b4b0" d="M910 1107l-24 0 -1-1 3-4 -3-6 0-6 6-2 -7-2 -8-10 0-12 3-4 0-14 -3-4 3-2 -6-10 3-2 0-18 -3-4 0-6 -6-6 -15-30 0-6 6-8 -12-4 3-6 6-2 -3-6 -9-6 7-2 2-4 -4-5 -4 3 -4-4 0-4 6-2 -8-14 -6 3 -1-1 0-6 3-4 -9-8 -3-10 4-4 4 3 4-1 -2-5 -10-1 0-4 6-6 -3-2 3-6 0-24 -9-6 6-6 0-10 3-2 0-10 -9-6 3-2 0-6 12-16 -3-6 0-6 -3-2 0-4 6-6 0-2 -6-4 3-6 0-6 3-2 -3-6 0-16 -3-2 14-2 1-4 5-2 1-4 7-5 6 0 6 9 6-3 6 3 5 4 0 6 9 4 0 8 9 6 0 10 -5 4 -2 0 -2 4 8 2 2-3 2 5 -6 2 3 6 -3 6 10 8 4-3 4 1 0 4 -6 2 0 10 3 2 0 6 9 4 0 14 3 4 -3 8 6 6 0 10 -3 2 3 6 0 12 -3 4 0 6 6 6 -3 2 0 10 -6 2 0 6 2 2 6-3 1 11 -6 6 0 8 -3 4 6 6 -3 2 0 6 6 10 -6 6 3 14 -6 6 6 22 -9 6 5 4 2-6 5 2 -3 2 3 4 0 6 -6 2 0 6 11 2 1 8 -1 1 -6-6 -14 5 2 4 6-3 4 5 0 2 -6 4 0 6 3 2 0 10 -3 2 6 6 0 4 -6 2 3 4 0 6 -6 8 6 12 -12 4 1 4 8 2 -4 4 -4 0zM896 690l-5-4 1-8 5 2zM916 993l5-1 -1-8 -5 8zM873 1018l-5 2 -4-4 8-2z"/>
<path fill="#00b6aa" d="M910 1107l-24 0 -1-1 3-4 -3-6 0-6 6-2 -7-2 -5-4 6-6 -9-6 0-6 3-4 0-14 -3-4 6-12 -6-2 0-18 -3-4 0-6 -6-6 -12-24 0-2 6-4 0-6 -6-2 3-6 -3-4 3-2 -6-10 0-14 -4-5 -4 3 -4-4 0-4 6-2 -8-14 -6 3 -1-1 0-6 6-4 0-6 -9-8 9-10 0-8 -9-12 0-24 3-4 -6-6 0-12 3-2 0-10 -3-2 3-4 -6-6 0-2 12-16 0-6 3-2 -1-5 -4 3 -4-4 0-4 6-6 0-12 -3-2 3-10 -3-2 0-10 5-1 1-7 5-2 1-4 5-2 1-4 7-5 6 0 6 9 6-3 6 3 5 4 0 6 9 4 0 8 9 6 0 10 -5 4 -2 0 -2 4 8 2 2-3 2 5 -6 2 3 6 -3 6 10 8 4-3 4 1 0 4 -6 2 0 10 3 2 0 12 9 6 0 6 -3 4 3 2 0 6 -3 6 9 6 -3 6 3 6 0 12 -9 10 0 2 12 4 -3 2 0 10 -6 2 0 6 9 10 -6 6 0 8 -3 4 6 6 -3 2 0 6 6 10 -6 6 0 6 -6 2 6 10 -3 2 -3 16 7 1 2 5 -9 6 6 6 0 12 -5 1 -4 7 0 6 6 10 0 6 3 6 -12 2 0 6 9 4 0 8 3 6 -7 2 -8 8 0 6 4 1 4-3 7 8 0 2 -12 4 0 12zM916 993l5-1 -1-8 -5 8z"/>
<path fill="#00b8a4" d="M910 1107l-24 0 -1-1 9-12 -3-4 0-6 -9-6 9-6 -6-2 3-10 -6-2 6-10 -8-1 -4-5 12-24 -2-1 -6 3 -4-2 0-8 -6-12 3-6 0-6 -11-2 -4-8 6-2 0-6 -3-4 0-6 -6-2 3-6 -3-4 3-2 -6-10 0-14 -3-4 0-6 -6-6 6-6 0-2 -11-2 -4-4 3-4 0-6 -9-8 9-10 0-8 -3-4 0-6 3-2 -1-2 -6 3 -2-1 0-24 3-4 -6-6 0-12 3-2 0-10 -3-2 3-4 -6-6 0-2 12-16 0-6 3-2 0-10 -6-2 3-4 0-12 -3-2 3-10 -3-6 6-6 0-8 5-2 1-4 5-2 1-4 7-5 6 0 6 9 6-3 6 3 5 4 0 6 9 4 0 8 9 6 0 10 -5 4 -2 0 -2 4 2 2 6 0 2-3 2 5 -6 2 3 6 -3 6 6 6 0 6 9 12 0 22 9 2 -3 4 3 2 0 6 -3 6 9 6 -6 12 0 6 4 2 2 4 -9 10 0 2 3 4 0 6 6 2 0 4 -6 2 0 6 9 10 -6 6 0 8 -3 4 6 6 -3 2 0 10 -3 2 3 10 -9 2 9 16 -3 2 -3 16 7 1 2 5 -4 1 -8 7 0 6 -9 6 0 6 9 6 0 6 3 4 -7 19 -4-3 -4 4 0 4 6 6 -3 6 9 6 0 6 -6 6 0 6 6 2 0 6 -3 4 0 6 -1 1 -4-3 -4 8 6 2z"/>
<path fill="#00ba9e" d="M904 1107l-12 0 -4-5 6-8 -3-4 0-12 -3-2 3-4 0-6 6-6 -1-4 -6 0 -4 3 -4-1 6-10 0-6 -3-2 3-4 -6-2 0-6 6-6 0-4 -8-1 -4-5 0-2 6-6 -4-5 -8-1 3-6 0-6 -11-2 -4-8 6-2 -3-16 -6-2 3-6 -3-4 3-2 -3-6 6-6 0-4 -9-2 -3-16 -6-6 6-6 0-12 -5-1 -6 3 -1-8 -3-2 3-4 0-20 -3-4 0-6 9-6 0-6 -1-1 -6 3 -2 4 -4 5 -2-1 0-24 3-4 -6-6 0-12 3-2 0-10 -3-2 6-12 6-4 0-2 -6-6 3-4 0-6 3-2 0-10 3-2 -6-6 0-10 -3-2 3-10 -3-6 6-6 0-8 5-2 1-4 5-2 1-4 7-5 6 0 6 9 6-3 6 3 5 4 3 16 4 1 5 5 -3 2 9 6 0 4 -9 6 3 6 -3 8 3 4 -6 6 5 4 6-6 4 4 0 6 9 12 0 22 9 2 -3 4 3 2 0 6 -8 2 -1 4 5 5 10 1 0 4 -4 4 -6-3 -5 5 7 1 2 7 6 4 0 2 -9 10 -3 6 0 8 6 6 0 6 3 4 -6 6 0 2 6 4 0 8 -3 4 6 6 -3 2 0 10 -9 6 0 8 3 4 -3 6 0 6 6 2 0 6 -9 10 0 12 3 2 0 6 -9 6 0 6 9 6 0 6 -6 10 4 1 2 5 -4 7 -4-3 -4 4 0 4 6 6 -3 2 3 6 0 6 -6 4 6 6 0 6 -6 8 0 6 3 6 -6 6 3 4zM903 764l-5-5 -4 1 2 5 6 3zM918 878l-4-2 -5 4 7 2z"/>
<path fill="#00bc98" d="M886 1059l-4-1 6-10 0-6 -3-2 3-4 -6-2 0-6 6-6 0-6 -3-4 3-2 0-6 -8-2 -2-3 -6 0 -2-5 3-2 0-6 -11-2 -4-8 4-1 6 6 2-1 0-6 -6-4 3-8 -6-4 3-6 0-6 -3-6 6-2 -6-4 -1-7 -8-1 -3-16 -6-6 6-6 0-2 9-6 -2-5 -6 3 -2-3 -6 3 -5-2 0-2 6-4 0-2 -6-4 0-20 3-4 0-8 3-4 0-6 -1-1 -6 3 -6 9 -2-1 0-24 2-2 7 2 -3 6 2 4 2 0 5-8 -3-2 -2-8 -6 0 -2 3 -5-5 0-12 3-2 0-6 6-6 0-4 -6-2 3-6 6-4 0-2 -6-6 9-6 -3-6 0-10 3-2 -6-6 0-10 -3-6 5-4 4 4 -3 6 7 2 2-2 -3-2 0-6 7-2 5-4 -5-8 -8 0 -5-4 0-6 5-2 1-4 5-2 1-4 7-5 6 0 6 9 6-3 11 7 0 6 3 4 0 12 6 6 0 14 3 4 -3 6 3 6 -6 6 11 10 2-3 8 7 3 6 0 22 9 2 -6 6 0 6 -3 6 5 5 10 1 0 4 -4 4 -12-6 -5 2 7 7 6 0 2 7 6 4 0 2 -4 5 -6-9 -5 4 0 10 -3 2 0 4 6 2 0 6 6 6 0 6 3 4 -9 12 0 2 8 2 1 4 -11 2 -4 4 10 11 5 1 0 4 -5 4 -6-9 -4 5 9 18 -3 6 0 6 6 2 0 6 -9 10 0 12 3 2 0 6 -9 6 0 6 -3 4 3 2 0 6 6 4 -3 8 -6 4 3 6 -3 6 6 6 -8 10 -14 0zM903 764l-5-5 -4 1 2 5 6 3zM846 776l-2-5 -7 1 1 5zM838 798l8-4 0-4 -4-4 -5 4zM918 878l-4-2 -5 4 7 2zM906 896l-2-8 -7 2 1 7zM867 904l-5-4 -4 8 8 1zM915 932l-5-2 -4 4 8 2zM912 982l-4-4 -8 2 0 2 4 5zM906 1048l-4-4 -5 2 1 4zM892 1086l-1-8 -3-2 4-5 6 0 4-6 6 0 1 5 -3 6 3 6zM892 1107l-4-5 3-6 5-4 6 0 2-3 5 5 0 2 -6 6 3 4z"/>
<path fill="#00be91" d="M886 1059l-4-1 6-10 0-6 -3-2 3-4 0-6 -3-2 3-6 0-6 -3-4 9-12 0-2 -4-5 -4 0 -1 7 -5 2 -1-2 0-14 -1-2 -16 0 -4-8 4-1 6 6 2-7 -6-4 3-8 -6-4 3-6 0-6 -3-6 6-2 -6-4 3-14 -4-5 -8-1 0-12 8-2 1 2 -3 6 2 1 6 0 1-5 -3-6 -9-6 3-6 -4-1 -4 3 -7-8 0-2 -6-4 0-20 12-6 -9-4 3-6 0-6 -3-2 0-6 3-4 -3-2 0-6 -8-2 -1-4 -6-4 1-7 6 6 4 0 6-6 4-1 0-4 -6-6 6-12 -8-1 -1-7 -6-6 9-6 -3-6 0-10 6-6 -3-2 0-6 4-2 8-8 0-6 3-2 -5-8 -8 0 -5-4 0-6 5-2 1-4 5-2 1-4 7-5 6 0 6 9 6-3 11 7 0 6 3 4 0 12 3 2 -3 6 6 6 0 6 -6 6 4 2 5 8 -6 6 11 10 2-3 11 13 0 22 -3 6 6 2 0 6 -3 6 6 6 -1 5 -6-3 -5 2 6 6 -6 18 6 6 -3 6 6 2 -6 6 0 6 2 2 2-3 6 0 2 7 3 4 -6 6 -1 4 -5-2 3-8 -4-2 -10 12 -7 2 1 7 6 0 4-6 6 0 4 7 -6 6 6 6 0 4 -12 14 0 6 6 4 0 8 -3 6 12 10 -6 6 -1 13 -6-3 -8 2 0 2 9 10 0 8 -5 2 -6-3 -1 5 6 6 1 4 10 0 1 4 -5 2 -2-3 -5 5 -3 8 -6 6 0 6 6 12 -10 2zM885 706l-1-1 -11 1 7 8zM850 753l5-5 0-2 -5-5 -2 0 -2 7zM903 764l-5-5 -4 1 2 5 6 3zM836 795l-8-1 0-6 4-5 4 0 4 5zM830 843l-2-7 4-2 2 4zM861 926l-7 1 -2-5 4-1zM916 936l-1-2 1-7 2 1zM909 1042l-1 2 -8-2 4-4zM904 1074l-4-4 2-5 7 1 0 4zM909 1082l-7 1 -2-5 8-1zM892 1107l-4-5 3-6 5-4 6 0 2-3 5 5 0 2 -5 5 -2-3 -5 4 0 4zM904 1107l-1-1 1-2 2 2z"/>
<path fill="#00bf8a" d="M898 996l-6 0 -2-3 -10 0 -2-9 -11-2 3-2 0-6 -3-4 3-2 -3-6 3-6 -3-4 0-6 5-7 7-1 -1-5 -4 0 -6 6 -1-1 0-10 -3-2 6-4 0-6 -2-1 -2 3 -5-2 0-6 5-1 1-5 -3-6 -9-6 5-4 2 0 5-4 0-4 -5-1 -6 6 -1-5 -9-8 0-12 -9-6 12-6 0-10 -5-1 -4-7 0-6 6-6 0-6 -3-6 -6-4 0-2 5-5 8 0 5-5 -5-1 -2 3 -8-8 6-8 -3-6 0-6 -3-4 0-6 10-1 5-5 0-2 -5-5 -7-1 3-6 -3-4 6-8 -3-4 6-6 0-6 9-8 -5-5 -6 0 -1-5 -6-2 0-6 5-2 1-4 7-5 6 0 6 9 6-3 8 5 -6 6 0 6 -3 2 13 5 2 5 -15 2 7 8 10 0 4 4 0 6 -4 5 -4 0 -4 5 0 2 4 2 11 14 -3 6 0 6 6 2 -3 6 0 10 7 1 8 7 -8 2 -4 4 3 6 5 2 1-4 5-5 2 0 2 7 -3 6 6 6 -1 5 -10-3 -4 4 0 4 6 2 0 10 -3 2 0 4 6 6 -3 6 6 2 -4 5 -8 1 0 6 6 10 -8 10 -7 2 1 7 6 0 4-6 7 1 0 4 -6 2 3 4 -6 6 6 12 0 2 -6 6 0 6 6 4 0 8 -3 6 6 6 0 12 -7 2 -2 4 -6 4 0 2 9 10 -7 1zM908 771l-5-1 1-8 8 2 0 2zM837 794l-7 1 -2-5 8-1zM855 830l-1-5 -5 1 1 5zM830 843l-2-7 4-2 2 4zM860 843l4-5 -2-4 -7 2zM920 876l-5-4 1-5 8 1 0 4zM916 888l-1-4 5-5 1 7zM856 909l-4-1 2-8 7 2 0 2zM861 926l-7 1 -2-5 4-1zM916 936l-1-2 1-7 2 1zM890 987l1-1 -1-11 -2 1zM892 1038l-4-4 6-6 -6-6 0-6 -3-4 3-6 4-4 4 0 7 8 3 8 -6 12zM882 1058l3-6 5-2 1 4 -5 5zM904 1074l-4-4 2-5 7 1 0 4z"/>
<path fill="#00c084" d="M898 981l-8-6 -2 5 -4 1 -5-5 -1-7 -6 3 -5-2 3-2 -3-6 3-6 -3-4 0-6 5-7 7-1 0-4 -5-1 -2-6 -8-1 6-4 0-12 -6-12 -9-6 5-4 2 0 5-4 0-4 -7-7 -4 12 -1-5 -9-8 0-12 -9-6 12-6 0-16 6-2 -12-24 5-2 6 6 4-4 -3-4 3-6 -3-8 -5-5 -2 3 -8-2 8-13 6 3 1-2 0-6 -7-4 -6 0 -2-8 10-1 5-5 0-2 -5-5 -6 0 -1-5 5-4 7-2 0-2 -9-10 6-6 0-6 9-8 -5-5 -6 0 -1-5 -6-2 0-6 5-2 1-4 7-5 6 0 6 9 6-3 8 5 -6 6 0 6 -3 2 13 5 2 5 -15 2 6 6 1 11 6-3 8 2 -12 12 0 2 9 6 6 12 -3 4 -2 7 -8-3 -2 4 4 5 6-3 5 4 0 12 -3 4 9 6 -3 2 4 8 4 0 6-9 4 1 0 6 -3 4 3 6 -12 8 0 10 6 2 -3 10 6 6 -3 6 6 2 -4 5 -6-3 -11 2 0 2 5 2 10 14 -8 10 -7 2 0 6 7 1 4-6 7 1 0 4 -6 2 3 4 -6 6 3 6 -5 1 -2-3 -5 4 3 4 -3 6 0 6 5 4 10 2 0 8 -8 8 -4 2 6 6 0 14zM910 792l-7-2 1-7 8 7zM850 801l-4-1 2-5 4 1zM860 843l4-5 -2-4 -7 2zM920 876l-5-4 1-5 8 1 0 4zM882 890l-4-5 -4 0 -4 5 0 2 8 2zM909 926l-5 4 -4-2 2-4zM888 992l4-5 6 0 4-3 7 8 -7 1 -4 3 -6 0zM892 1038l-4-4 6-6 -6-6 0-4 8-7 6 0 4 5 0 2 -6 12zM882 1058l3-6 5-2 1 4 -5 5zM904 1074l-4-4 2-5 7 1 0 4z"/>
<path fill="#29c07e" d="M898 981l-8-6 -2 5 -4 1 -5-5 0-6 -7-7 -5-1 3-6 -3-4 0-6 5-7 6 3 7-2 -7-7 -4 0 -2-6 -8-1 4-2 4-6 7-2 0-6 -5-1 -2 3 -8-10 4-2 4-6 6 0 6 9 4-5 -10-13 -10 3 -1-8 -7-7 -4 3 -6 0 -4-4 0-16 3-2 0-16 7-1 4 6 4-5 -3-6 9-6 -8-1 -1-5 -6-6 0-6 3-2 -3-6 12-10 -11-1 -6-9 -2 3 -5-1 5-11 6 3 1-2 0-6 -7-4 -8-2 2-7 8 0 5-5 0-2 -5-5 -6 0 -1-5 5-4 7-2 0-2 -9-10 6-6 0-6 9-8 -5-5 -6 0 -1-5 -6-2 0-6 5-2 1-4 7-5 6 0 6 9 6-3 8 5 -8 7 -2 0 -2 5 4 4 6 0 8 4 -2 5 -13 1 6 6 0 10 6 2 0 6 -5 2 -6-6 -4 4 0 4 16 4 11 14 -3 6 0 6 -4 1 -6-3 -2 4 6 6 2 5 2-9 5 4 0 12 -3 4 9 6 -3 2 3 6 5 2 2-3 8 11 -12 8 0 10 6 2 -3 10 6 6 -7 10 -11 2 0 2 5 2 10 14 -8 10 -7 2 1 7 10 0 4 5 -6 6 3 6 -5 1 -2-3 -5 4 3 4 -3 6 0 6 5 4 8 0 2 10 -8 8 -2 0 -4 6 -14 0 -2 2 2 4 8 0 6-3 2 5 6 2 0 6zM906 1016l-4 10 -4-6 -10-2 4-4zM904 1074l-4-4 2-5 7 1 0 4z"/>
<path fill="#4ec078" d="M878 969l-6-6 -5-1 3-6 -3-4 0-6 5-7 6 3 7-2 -7-7 -4 0 -2-6 -8-1 4-2 4-6 7-2 0-6 -5-1 -2 3 -8-10 4-2 6 3 6-3 4 3 4-5 -3-6 -12-12 -1-7 -6 0 -4 3 -1-4 -5-2 -6 6 -4-4 0-16 3-2 0-16 7-1 4 6 4-5 -3-6 9-6 -8-1 -1-5 -6-6 0-6 3-2 -3-6 12-10 -11-1 -6-9 -2 3 -5-1 5-11 6 3 1-2 0-6 -7-4 -8-2 2-7 8 0 5-5 0-2 -5-5 -6 0 -1-5 5-4 7-2 0-2 -9-10 6-6 0-6 9-8 -5-5 -6 0 -1-5 -6-2 0-6 5-2 1-4 7-5 6 0 6 9 6-3 8 5 -8 7 -2 0 -2 5 4 4 6 0 6 3 2 5 -2 1 -18 0 -4 5 0 2 4 5 6 0 4-3 1 8 6 2 -1 8 -4 0 -6-6 -4 4 2 5 8 0 6 3 11 14 -1 4 -10 0 -4 10 6 6 2 5 2-9 5 4 0 12 -3 4 9 6 -3 2 3 6 5 2 2-3 8 11 -12 8 0 10 6 2 -3 10 6 6 -7 10 -11 2 0 2 5 2 10 14 -8 10 -7 2 0 6 6 2 0 6 6 6 -1 5 -6-3 -5 4 3 4 -3 6 0 6 5 4 8 0 2 10 -8 8 -2 0 -4 6 -14 0zM898 981l-13-7 3-6 8-5 2 0 2 5 6 2 0 6zM902 1026l-2-10 4-2 2 4zM904 1074l-4-4 2-5 7 1 0 4z"/>
<path fill="#67c073" d="M886 939l-2 0 -6-6 -5-1 0-10 -3-2 8-2 1-8 -5-1 -2 3 -8-10 4-2 6 3 6-3 4 3 4-5 -3-6 -12-12 -1-7 -6 0 -4 3 -1-4 -5-2 -6 6 -4-4 0-16 3-2 0-16 7-1 4 6 4-5 -3-6 9-6 -8-1 -1-5 -6-6 0-6 9-6 -3-6 6-6 -11-1 -6-9 -2 3 -5-1 5-11 6 3 1-2 0-6 -7-4 -8-2 2-7 8 0 5-5 0-2 -5-5 -6 0 -1-5 5-4 7-2 0-2 -9-10 6-6 0-6 9-8 -5-5 -6 0 -1-5 -6-2 0-6 5-2 1-4 7-5 6 0 6 9 6-3 8 5 -8 7 -4 1 0 4 9 6 0 6 -11 1 -4 5 0 2 4 5 6 0 4-3 1 8 6 2 -1 8 -4 0 -6-6 -4 4 2 5 8 0 6 3 11 14 -1 4 -10 0 -4 10 6 6 2 5 2-9 5 4 0 12 -3 4 9 6 -3 2 3 6 5 2 2-3 8 11 -12 8 0 10 6 2 -3 10 6 6 -7 10 -11 2 0 2 5 2 10 14 -8 10 -7 2 0 6 6 2 0 10 -5 1 -2-3 -5 4 9 10 -3 6 0 6 3 2 -10 2zM908 951l-8-7 2-8 10 2 0 8zM867 962l3-6 -3-4 1-7 6 3 12-6 4 6 2-3 8 1 -2 14 -14 0 -6 9 -6-6zM906 970l-2 8 -19-4 5-8 6 6 2-3zM902 1026l-2-10 4-2 2 4z"/>
<path fill="#7bc06e" d="M886 939l-2 0 -6-6 -5-1 0-10 -3-2 10-2 5-4 -5-5 -7-1 0-4 5-4 6 3 4-5 -3-6 -12-12 1-4 6 0 5-4 -3-6 -8-2 -4 4 0 4 -8 4 -2-6 -4 0 -6 6 -4-4 0-16 3-2 0-16 7-1 4 6 4-5 -3-6 9-6 -8-1 -1-5 -6-6 0-6 9-6 -3-6 6-6 -11-1 -6-9 -2 3 -5-1 5-11 6 3 1-2 0-6 -7-4 -8-2 2-7 8 0 5-5 0-2 -5-5 -6 0 -1-5 5-4 7-2 0-2 -9-10 6-6 0-6 9-8 -5-5 -6 0 -1-5 -6-2 0-6 5-2 1-4 7-5 6 0 6 9 6-3 8 5 -8 7 -4 1 0 4 9 6 0 6 -7 1 -6-6 -5 7 3 6 -6 4 4 1 4-3 2 3 6 0 4-3 1 8 6 2 -1 8 -4 0 -6-6 -4 4 2 5 8 0 11 7 0 6 -9 18 6 6 2 5 2-9 5 4 0 12 -3 4 9 6 -3 2 3 6 5 2 2-3 8 11 -12 8 0 10 6 2 -3 10 6 6 -7 10 -11 2 0 2 5 2 10 14 -8 10 -7 2 0 6 6 2 0 10 -5 1 -2-3 -5 4 9 10 -3 6 0 6 3 2 -10 2zM908 951l-5-5 0-2 7-8 2 10zM867 962l3-6 -3-4 1-7 6 3 12-6 4 6 2-3 8 1 -2 14 -14 0 -6 9 -6-6zM906 970l-2 8 -19-4 5-8 6 6 2-3z"/>
<path fill="#8cc06a" d="M886 939l-2 0 -6-6 -5-1 0-10 -3-2 10-2 5-4 -5-5 -7-1 0-4 5-4 6 3 4-5 -3-6 -12-12 1-4 6 0 5-4 -3-6 -8-2 -6 6 -6-3 -12 9 -4-4 0-16 3-2 0-12 1-2 4 3 6 0 4-5 -3-6 9-6 -8-1 -1-5 -6-6 0-6 9-6 -3-6 6-6 -11-1 -6-9 -2 3 -5-1 5-11 6 3 1-2 0-6 -7-4 -8-2 2-7 8 0 6-6 5-1 -1-5 -6 3 -4-3 -7-1 0-4 5-4 7-2 0-2 -9-10 6-6 0-6 9-8 -5-5 -6 0 -1-5 -6-2 0-6 5-2 1-4 7-5 6 0 6 9 6-3 8 5 -8 7 -4 1 0 4 9 6 0 6 -7 1 -6-6 -5 7 3 6 -6 4 4 1 4-3 2 3 6 0 4-3 1 8 6 2 -1 8 -4 0 -6-6 -4 4 2 5 8 0 11 7 0 6 -9 18 6 6 2 5 2-9 5 4 0 12 -3 4 9 6 -3 2 3 6 5 2 2-3 8 11 -12 8 0 10 6 2 -3 10 6 6 -7 10 -11 2 0 2 5 2 10 14 -8 10 -7 2 0 6 -3 2 4 5 4 0 1 5 -5 1 -2-3 -5 4 9 10 -3 6 0 6 3 2 -10 2zM910 948l-4-4 0-4 4-4 2 2zM872 963l-5-1 3-6 -3-4 1-7 4 0 4 7 0 6zM900 946l-2 14 -18 0 -1-4 13-11zM903 976l-5 2 -2-3 -11-1 5-8z"/>
<path fill="#9bc065" d="M866 696l-16-3 -1-5 -6-2 0-6 5-2 1-4 7-5 6 0 6 9 6-3 8 5 -8 7 -2 0zM878 705l-8-1 0-4 4-4 5 2zM896 897l-6-9 -10 0 -7-8 1-4 6 0 5-4 -5-8 -6 0 -6 6 -2-3 -6 3 -6 0 -8-4 0-10 4-4 4 3 4-1 -9-6 0-6 1-2 4 3 6 0 4-5 -3-6 9-6 -8-1 -1-5 -6-6 0-6 9-6 -3-6 6-6 -11-1 -6-9 -2 3 -5-1 5-11 6 3 1-2 0-6 -7-4 -8-2 2-7 8 0 6-6 5-1 -1-5 -6 3 -4-3 -7-1 0-4 5-4 7-2 0-2 -9-10 6-6 2-7 7 1 -3 6 2 5 6-3 2 3 6 0 4-3 1 8 6 2 -1 8 -4 0 -6-6 -4 4 2 5 8 0 11 7 0 6 -9 18 6 6 2 5 2-9 5 4 0 12 -3 4 9 6 -3 2 3 6 5 2 2-3 8 11 -12 8 0 10 6 2 -6 16 6 6 -4 4 -11 2 0 2 6 4 -3 6 4 4 4-3 4 5 -8 10 -7 2zM903 908l-5 1 -2-3 -6 6 -6 0 -4-3 -6 0 -1-5 5-4 6 3 2-3 10 0 6 3zM873 932l0-6 5-2 6-9 6 3 6-3 4 5 -3 6 0 6 3 2 -2 2 -8 0 -6 3 -6-6zM900 946l-2 14 -18 0 -1-4 13-11zM874 957l-4-5 2-1 4 1zM892 975l-7-1 5-8 4 4z"/>
<path fill="#a9bf61" d="M866 696l-16-3 -1-5 -6-2 0-6 5-2 1-4 7-5 6 0 6 9 6-3 8 5 -8 7 -2 0zM878 705l-8-1 0-4 4-4 5 2zM904 888l-10-2 3-8 -5-5 -1 13 -11 2 -7-8 1-4 6 0 5-4 -5-8 -6 0 -6 6 -2-3 -6 3 -6 0 -8-4 0-10 4-4 4 3 4-1 -3-6 9-10 -3-6 9-6 -8-1 -1-5 -6-6 0-6 9-6 -3-6 6-6 -11-1 -6-9 -2 3 -5-1 5-11 6 3 1-2 0-6 -7-4 -6 0 -2-8 10-1 6-6 5-1 -1-5 -6 3 -4-3 -7-1 0-4 5-4 7-2 0-2 -9-10 8-7 6 6 6-3 2 3 6 0 4-3 1 8 6 2 -1 8 -4 0 -6-6 -4 4 2 5 8 0 11 7 0 6 -9 18 6 6 2 5 2-9 5 4 0 12 -3 4 9 6 -3 2 3 6 5 2 2-3 8 11 -12 8 0 10 6 2 -6 12 0 6 -4 5 -4-6 -1 1 0 12 6 4 -3 6 4 4 4-3 4 5zM873 854l0-4 -5-4 -4 2 0 2 4 5zM880 909l-7-1 0-4 5-4 4 2zM892 909l-1-7 5-2 1 4zM884 939l-5-5 0-12 11-1 6-6 4 5 -3 6 0 6 3 2zM898 960l-8 0 -5-8 7-7 8 1zM874 957l-4-5 2-1 4 1zM892 975l-7-1 5-8 4 4z"/>
<path fill="#b6be5d" d="M866 696l-16-3 -1-5 -6-2 0-6 5-2 1-4 7-5 6 0 6 9 6-3 8 5 -8 7 -2 0zM898 888l-4-2 3-8 -5-5 -2 15 -10 0 -7-8 1-4 6 0 5-4 -5-8 -6 0 -6 6 -2-3 -6 3 -6 0 -8-4 0-10 4-4 4 3 4-1 -3-6 9-10 -3-6 9-6 -9-2 0-12 -3-4 4-4 4 9 4-1 0-6 -9-6 0-4 6-6 -11-1 -6-9 -2 3 -5-1 5-11 6 3 1-2 0-6 -9-6 3-6 7-7 5-1 -1-5 -6 3 -4-3 -7-1 0-4 5-4 7-2 0-2 -9-10 8-7 6 6 6-3 2 3 6 0 4-3 1 8 6 2 -1 8 -4 0 -6-6 -4 4 2 5 8 0 11 7 -1 5 -8 1 3 6 0 6 -3 6 6 6 2 5 2-9 5 4 0 12 -3 4 9 6 -3 2 3 6 5 2 2-3 8 11 -10 7 -6-3 -5 2 0 6 5 1 2-3 2 8 6 2 -6 12 0 6 -4 5 -4-6 -1 1 0 12 6 4 -3 6 3 6 -3 2zM872 765l4-5 -2-4 -2 0 -5 4zM864 850l4 5 4 0 2-3 6 0 2-4 -4-5 -4 0 -2 3 -6 0zM892 909l-1-7 5-2 1 4zM886 939l-2 0 -5-5 1-13 5 1 0 6 6 6zM898 960l-8 0 -5-8 7-7 8 1zM874 957l-4-5 2-1 4 1z"/>
<path fill="#c3be59" d="M866 696l-16-3 -1-5 -6-2 0-6 5-2 1-4 7-5 6 0 6 9 6-3 8 5 -8 7 -2 0zM852 724l0-2 4-5 6 0 4-3 2 3 6 0 4-3 1 2 0 6 -7 7 -4-3 -12 6zM890 888l-10 0 -7-8 1-4 6 0 5-4 -5-8 -6 0 -6 6 -2-3 -6 3 -6 0 -5-4 3-4 -6-6 4-4 4 3 6-3 6 0 6 3 2-3 8-2 0-2 -4-5 -6 3 -11-14 9-6 -3-6 -6-2 0-6 -3-4 4-4 4 9 4-1 0-6 -9-6 0-4 6-6 -11-1 -6-9 -2 3 -5-1 5-11 6 3 1-2 0-12 3-2 0-6 -3-4 6-2 -1-5 -6 3 -4-3 -6 0 -1-5 5-4 6 0 2 3 10 0 1 7 5 8 8-12 6 0 5 4 -1 5 -6 0 -17 13 5 5 6-6 12 18 2-9 5 4 0 12 -3 4 9 6 -3 2 3 6 -3 4 0 8 -3 4 0 6 5 1 2-3 2 8 6 2 -6 12 0 6 -4 5 -2-11 -4-4 -4 0 -4 4 9 6 0 12 6 4 -3 6 3 6 -5 1 -6-6zM868 735l-1-1 1-2 2 2zM878 795l2 0 5-5 -1-4 -4 0 -4 4zM904 819l-1-5 3-6 -3-2 7-5 5 5 -3 8 -4 5zM894 808l-4-4 -4 0 -4 4 4 5 4 0zM898 960l-8 0 -5-8 7-7 8 1zM874 957l-4-5 2-1 4 1z"/>
<path fill="#cebd55" d="M866 696l-16-3 -1-5 -6-2 0-6 5-2 1-4 7-5 6 0 6 9 6-3 8 5 -8 7 -2 0zM855 730l3-8 8-8 2 3 6 0 4-3 1 2 0 6 -7 7 -4-3 -8 6zM868 735l-1-1 1-2 2 2zM866 741l-5-1 1-5 5 1zM890 747l-8-1 4-8 5 4zM862 762l-4-4 0-4 4-1 6-6 5 5 0 2 -7 8zM904 846l-2 0 -6-6 -12 6 -6-3 -6 3 -5-4 0-4 -6-6 5-4 6 3 4-5 0-6 -2-1 -6 6 -1-5 -6-2 9-6 0-6 -9-6 0-4 6-6 -11-1 -4-5 0-2 -6-4 2-7 14 6 4-9 2 3 10-12 12 18 2-9 5 4 0 12 -3 4 3 2 -3 4 9 6 -7 4 -10 0 -4 4 8 11 2-9 8 2 -3 6 0 6 5 1 2-3 2 8 6 2 -2 5 -6-3 -4 2 2 4 7 2zM878 795l2 0 5-5 -1-4 -4 0 -4 4zM892 834l2-8 -4-4 -2 10zM903 868l-7 8 -4-3 -1 1 -1 14 -10 0 -7-8 1-4 6 0 5-4 -5-8 -6 0 -2-6 -4 3 -6-3 -6 0 -1 4 6 6 -7 2 -5-4 3-4 -6-6 4-4 4 3 6-3 6 0 6 3 2-3 16 0 6-3 1 13 5 2zM898 960l-8 0 -5-8 7-7 8 1z"/>
<path fill="#dabc51" d="M866 696l-16-3 -1-5 -6-2 0-6 5-2 1-4 7-5 6 0 6 9 6-3 8 5 -8 7 -2 0zM856 732l-1-4 11-14 4 4 0 4 -4 7zM868 735l-1-1 1-2 2 2zM866 741l-5-1 1-5 5 1zM862 762l-1-4 5-5 4 5 -4 4zM894 802l-14 5 -4-5 0-2 -9-6 -1-5 -10 0 -4-5 0-2 -6-4 0-6 4-1 12 6 4-9 2 3 10-12 13 19 0 6 -11 2 -4 4 0 4 4 1 4-3 6 0 6-3 1 1 -3 4zM896 777l-5-1 1-8 5 4zM909 842l-5 4 -2 0 -11-10 3-4 0-6 -4-4 -4 12 -7-2 -5-13 -6 6 -1-5 3-2 0-6 4-2 6 9 10 0 2-3 6 9 6-3 2 8 4 1 2 5 -4 1 -6-3 -2 4zM882 844l-2 2 -6-3 -2 3 -11-14 5-4 2 0 6 9 8 1zM903 868l-7 8 -4-3 -1 1 -1 14 -10 0 -7-8 1-4 6 0 5-4 -5-8 -6 0 -2-6 -4 3 -6-3 -6 0 -1 4 6 6 -7 2 -5-4 3-4 -6-6 4-4 4 3 6-3 6 0 6 3 2-3 16 0 6-3 1 13 5 2zM898 960l-8 0 -5-8 7-7 8 1z"/>
<path fill="#e5bc4d" d="M866 696l-16-3 -4-7 3-4 0-8 7-5 6 0 6 9 6-3 8 5 -8 7 -2 0zM856 732l-1-4 11-14 4 4 0 4 -4 7zM868 735l-1-1 1-2 2 2zM866 741l-5-1 1-5 5 1zM866 789l-8-7 4-5 10 6 1-7 7-11 8 7 3 6 0 6 -11 2 -2 3zM866 777l-2-1 2-8 4 4zM876 802l2-7 2 0 6 6 4-6 4 1 -2 8 -6 0 -6 3zM868 825l-1-5 3-2 0-6 4-2 5 4 0 4 -5 1zM904 846l-2 0 -11-10 3-4 2-7 4 1 0 12 9 4zM854 861l-4 0 -4-5 4-4 5 4zM890 888l-10 0 -7-8 1-4 6 0 5-4 -3-6 -8-2 -2-6 -6 3 -2-1 2-8 2 3 6-3 18 0 2 8 9 6 0 2 -7 8 -4-3 -1 1zM898 960l-8 0 -5-8 7-7 8 1z"/>
<path fill="#efbb48" d="M866 696l-16-3 -4-7 3-4 0-8 7-5 4 9 13 2 0 6 -6 6zM856 732l-1-4 11-14 4 4 0 4 -4 7zM868 735l-1-1 1-2 2 2zM866 741l-5-1 1-5 5 1zM866 789l-8-7 4-5 10 6 1-7 7-11 8 7 3 6 0 6 -11 2 -2 3zM876 802l2-7 2 0 6 6 4-6 4 1 -2 8 -6 0 -6 3zM868 825l-1-5 5-1 1 1zM904 846l-2 0 -11-10 5-5 6 9 7 2zM868 861l-4-1 2-8 4 4zM890 888l-10 0 -7-8 1-4 6 0 5-4 -5-8 -7-2 0-2 5-2 2-6 12 0 2 8 3 2 0 6 -6 6z"/>
<path fill="#f9bb43" d="M866 696l-16-3 -4-7 3-4 0-8 7-5 4 15 6 0 2-6 5 2 0 6 -6 6zM868 723l-2 0 -5-5 5-4 4 4zM855 730l1-4 11 2 -7 4zM866 789l-8-7 4-5 10 6 1-7 7-11 8 7 3 6 0 6 -11 2 -2 3zM898 840l-2 0 -5-4 5-5 4 5zM897 868l-5 5 -6 0 -4-5 0-2 -8-2 -1-4 11-2 2-6 6 0 2 8 3 2zM891 886l-11 2 -7-8 0-2 7-2 6 3 4-3z"/>
<path fill="#ffbb3d" d="M850 693l-4-7 3-4 0-8 7-5 2 13 -3 4 0 6zM860 696l-2-10 8-2 1-4 5-2 1 8 -6 6 -1 4zM868 723l-2 0 -5-5 5-4 4 4zM855 730l1-4 11 2 -7 4zM891 778l-1 8 -10 0 -2 3 -12 0 -8-7 4-5 10 6 2-9zM898 840l-2 0 -5-4 5-5 4 5zM892 873l-1-11 -6-6 1-4 6 0 2 8 3 2 0 6zM882 862l-8 2 -1-4 7-2zM878 885l-5-5 1-4 8 2 0 2zM890 888l-5-8 5-4 1 2z"/>
<path fill="#ffbc35" d="M848 687l-2-1 2-2 1 2zM854 693l-5-1 1-5 5 1zM867 694l-7 2 -2-4 8-2zM882 778l-6 6 3 4 -1 1 -12 0 -8-7 4-5 10 6 2-9 4 0zM898 840l-2 0 -5-4 5-5 4 5zM882 862l-8 2 -1-4 7-2zM878 885l-5-5 1-4 8 2 0 2z"/>
<path fill="#ffc02a" d="M867 694l-7 2 -2-4 8-2zM879 788l-13 1 -8-7 4-5 12 6zM878 885l-5-5 1-4 8 2 0 2z"/>
<path fill="#ffc51d" d="M867 694l-7 2 -2-4 8-2zM862 786l-4-4 4-5 2 1zM879 788l-1 1 -8-1 4-5zM878 885l-5-5 1-4 8 2 0 2z"/>
<path fill="#f8fb00" d="M878 885l-5-5 1-4 8 2 0 2z"/>
</g>
<g fill="none" stroke="#000" stroke-linecap="butt"><path d="M859.0 683.6 V665.2" stroke-width="9.4"/><path d="M859.0 682.6 L841.4 678.0 M859.0 682.6 L876.6 678.0" stroke-width="8.4"/><path d="M859.0 681.6 L849.2 697.8 M859.0 681.6 L868.8 697.8" stroke-width="8.4"/><circle cx="859.0" cy="682.3" r="7" fill="#000" stroke="none"/></g>
<g fill="none" stroke="#00c800" stroke-linecap="butt"><path d="M1214.3 984.0 V965.6" stroke-width="9.4"/><path d="M1214.3 983.0 L1196.7 978.4 M1214.3 983.0 L1231.9 978.4" stroke-width="8.4"/><path d="M1214.3 982.0 L1204.5 998.2 M1214.3 982.0 L1224.1 998.2" stroke-width="8.4"/><circle cx="1214.3" cy="982.7" r="7" fill="#00c800" stroke="none"/></g>
<rect x="827" y="45" width="24" height="3.4" fill="#000"/>
<g fill="none" stroke="#484848" stroke-width="3">
<rect x="204.5" y="62.5" width="1278.4" height="1141.5"/>
<path d="M274.7 1204.0 v-13.5 M274.7 62.5 v13.5 M465.3 1204.0 v-13.5 M465.3 62.5 v13.5 M656.0 1204.0 v-13.5 M656.0 62.5 v13.5 M846.6 1204.0 v-13.5 M846.6 62.5 v13.5 M1037.3 1204.0 v-13.5 M1037.3 62.5 v13.5 M1228.0 1204.0 v-13.5 M1228.0 62.5 v13.5 M1418.6 1204.0 v-13.5 M1418.6 62.5 v13.5 M204.5 252.8 h13.5 M1482.9 252.8 h-13.5 M204.5 443.0 h13.5 M1482.9 443.0 h-13.5 M204.5 633.2 h13.5 M1482.9 633.2 h-13.5 M204.5 823.5 h13.5 M1482.9 823.5 h-13.5 M204.5 1013.7 h13.5 M1482.9 1013.7 h-13.5"/>
</g>
<g font-size="51.4">
<text x="275.9" y="1273.0" text-anchor="middle">-60</text>
<text x="466.5" y="1273.0" text-anchor="middle">-40</text>
<text x="657.2" y="1273.0" text-anchor="middle">-20</text>
<text x="847.4" y="1273.0" text-anchor="middle">0</text>
<text x="1038.1" y="1273.0" text-anchor="middle">20</text>
<text x="1228.8" y="1273.0" text-anchor="middle">40</text>
<text x="1419.4" y="1273.0" text-anchor="middle">60</text>
<text x="183" y="80.3" text-anchor="end">0</text>
<text x="183" y="270.6" text-anchor="end">20</text>
<text x="183" y="460.8" text-anchor="end">40</text>
<text x="183" y="651.0" text-anchor="end">60</text>
<text x="183" y="841.3" text-anchor="end">80</text>
<text x="183" y="1031.5" text-anchor="end">100</text>
<text x="183" y="1221.8" text-anchor="end">120</text>
</g>
<text x="843.6" y="1340.9" font-size="56" text-anchor="middle">Width, mm</text>
<text transform="translate(73.2 634.5) rotate(-90)" font-size="56" text-anchor="middle">Depth, mm</text>
<g shape-rendering="crispEdges">
<rect x="1532.4" y="1184.71" width="100.9" height="18.39" fill="#36268b"/>
<rect x="1532.4" y="1166.92" width="100.9" height="18.39" fill="#352d97"/>
<rect x="1532.4" y="1149.13" width="100.9" height="18.39" fill="#3333a4"/>
<rect x="1532.4" y="1131.34" width="100.9" height="18.39" fill="#2e3ab1"/>
<rect x="1532.4" y="1113.55" width="100.9" height="18.39" fill="#2442be"/>
<rect x="1532.4" y="1095.77" width="100.9" height="18.39" fill="#0749cb"/>
<rect x="1532.4" y="1077.98" width="100.9" height="18.39" fill="#0052d8"/>
<rect x="1532.4" y="1060.19" width="100.9" height="18.39" fill="#005be2"/>
<rect x="1532.4" y="1042.40" width="100.9" height="18.39" fill="#0063e5"/>
<rect x="1532.4" y="1024.61" width="100.9" height="18.39" fill="#0068e5"/>
<rect x="1532.4" y="1006.82" width="100.9" height="18.39" fill="#006de4"/>
<rect x="1532.4" y="989.03" width="100.9" height="18.39" fill="#0072e3"/>
<rect x="1532.4" y="971.24" width="100.9" height="18.39" fill="#0076e0"/>
<rect x="1532.4" y="953.45" width="100.9" height="18.39" fill="#007ade"/>
<rect x="1532.4" y="935.66" width="100.9" height="18.39" fill="#007edc"/>
<rect x="1532.4" y="917.88" width="100.9" height="18.39" fill="#0082da"/>
<rect x="1532.4" y="900.09" width="100.9" height="18.39" fill="#0086d8"/>
<rect x="1532.4" y="882.30" width="100.9" height="18.39" fill="#008ad6"/>
<rect x="1532.4" y="864.51" width="100.9" height="18.39" fill="#008fd6"/>
<rect x="1532.4" y="846.72" width="100.9" height="18.39" fill="#0095d5"/>
<rect x="1532.4" y="828.93" width="100.9" height="18.39" fill="#009ad4"/>
<rect x="1532.4" y="811.14" width="100.9" height="18.39" fill="#009ed2"/>
<rect x="1532.4" y="793.35" width="100.9" height="18.39" fill="#00a2d0"/>
<rect x="1532.4" y="775.56" width="100.9" height="18.39" fill="#00a5cc"/>
<rect x="1532.4" y="757.77" width="100.9" height="18.39" fill="#00a8c9"/>
<rect x="1532.4" y="739.98" width="100.9" height="18.39" fill="#00abc4"/>
<rect x="1532.4" y="722.20" width="100.9" height="18.39" fill="#00adc0"/>
<rect x="1532.4" y="704.41" width="100.9" height="18.39" fill="#00b0bb"/>
<rect x="1532.4" y="686.62" width="100.9" height="18.39" fill="#00b2b6"/>
<rect x="1532.4" y="668.83" width="100.9" height="18.39" fill="#00b4b0"/>
<rect x="1532.4" y="651.04" width="100.9" height="18.39" fill="#00b6aa"/>
<rect x="1532.4" y="633.25" width="100.9" height="18.39" fill="#00b8a4"/>
<rect x="1532.4" y="615.46" width="100.9" height="18.39" fill="#00ba9e"/>
<rect x="1532.4" y="597.67" width="100.9" height="18.39" fill="#00bc98"/>
<rect x="1532.4" y="579.88" width="100.9" height="18.39" fill="#00be91"/>
<rect x="1532.4" y="562.09" width="100.9" height="18.39" fill="#00bf8a"/>
<rect x="1532.4" y="544.30" width="100.9" height="18.39" fill="#00c084"/>
<rect x="1532.4" y="526.52" width="100.9" height="18.39" fill="#29c07e"/>
<rect x="1532.4" y="508.73" width="100.9" height="18.39" fill="#4ec078"/>
<rect x="1532.4" y="490.94" width="100.9" height="18.39" fill="#67c073"/>
<rect x="1532.4" y="473.15" width="100.9" height="18.39" fill="#7bc06e"/>
<rect x="1532.4" y="455.36" width="100.9" height="18.39" fill="#8cc06a"/>
<rect x="1532.4" y="437.57" width="100.9" height="18.39" fill="#9bc065"/>
<rect x="1532.4" y="419.78" width="100.9" height="18.39" fill="#a9bf61"/>
<rect x="1532.4" y="401.99" width="100.9" height="18.39" fill="#b6be5d"/>
<rect x="1532.4" y="384.20" width="100.9" height="18.39" fill="#c3be59"/>
<rect x="1532.4" y="366.41" width="100.9" height="18.39" fill="#cebd55"/>
<rect x="1532.4" y="348.62" width="100.9" height="18.39" fill="#dabc51"/>
<rect x="1532.4" y="330.84" width="100.9" height="18.39" fill="#e5bc4d"/>
<rect x="1532.4" y="313.05" width="100.9" height="18.39" fill="#efbb48"/>
<rect x="1532.4" y="295.26" width="100.9" height="18.39" fill="#f9bb43"/>
<rect x="1532.4" y="277.47" width="100.9" height="18.39" fill="#ffbb3d"/>
<rect x="1532.4" y="259.68" width="100.9" height="18.39" fill="#ffbc35"/>
<rect x="1532.4" y="241.89" width="100.9" height="18.39" fill="#ffc02a"/>
<rect x="1532.4" y="224.10" width="100.9" height="18.39" fill="#ffc51d"/>
<rect x="1532.4" y="206.31" width="100.9" height="18.39" fill="#ffca0d"/>
<rect x="1532.4" y="188.52" width="100.9" height="18.39" fill="#ffcf00"/>
<rect x="1532.4" y="170.73" width="100.9" height="18.39" fill="#ffd400"/>
<rect x="1532.4" y="152.95" width="100.9" height="18.39" fill="#ffd900"/>
<rect x="1532.4" y="135.16" width="100.9" height="18.39" fill="#fedf00"/>
<rect x="1532.4" y="117.37" width="100.9" height="18.39" fill="#fbe500"/>
<rect x="1532.4" y="99.58" width="100.9" height="18.39" fill="#f9ec00"/>
<rect x="1532.4" y="81.79" width="100.9" height="18.39" fill="#f8f300"/>
<rect x="1532.4" y="64.00" width="100.9" height="18.39" fill="#f8fb00"/>
</g>
<rect x="1532.4" y="62.5" width="100.9" height="1141.5" fill="none" stroke="#262626" stroke-width="3.4"/>
<path d="M1633.3 1087.1 h-13.5 M1633.3 959.8 h-13.5 M1633.3 832.4 h-13.5 M1633.3 705.1 h-13.5 M1633.3 577.7 h-13.5 M1633.3 450.3 h-13.5 M1633.3 323.0 h-13.5 M1633.3 195.6 h-13.5 M1633.3 68.2 h-13.5" stroke="#303030" stroke-width="3" fill="none"/>
<g font-size="51.4">
<text x="1653" y="1105.3">2</text>
<text x="1653" y="978.0">4</text>
<text x="1653" y="850.6">6</text>
<text x="1653" y="723.3">8</text>
<text x="1653" y="595.9">10</text>
<text x="1653" y="468.5">12</text>
<text x="1653" y="341.2">14</text>
<text x="1653" y="213.8">16</text>
<text x="1653" y="86.4">18</text>
</g>
<text transform="translate(1773.8 759.5) rotate(-90)" font-size="51"><tspan x="0.0" y="0">d</tspan><tspan x="28.0" y="24.5" font-size="42">rms</tspan><tspan x="96.0" y="0">[p]</tspan><tspan x="152.5" y="0">,</tspan><tspan x="183.0" y="0" font-style="italic">μ</tspan><tspan x="211.0" y="0">m</tspan></text>
</svg></body></html>
